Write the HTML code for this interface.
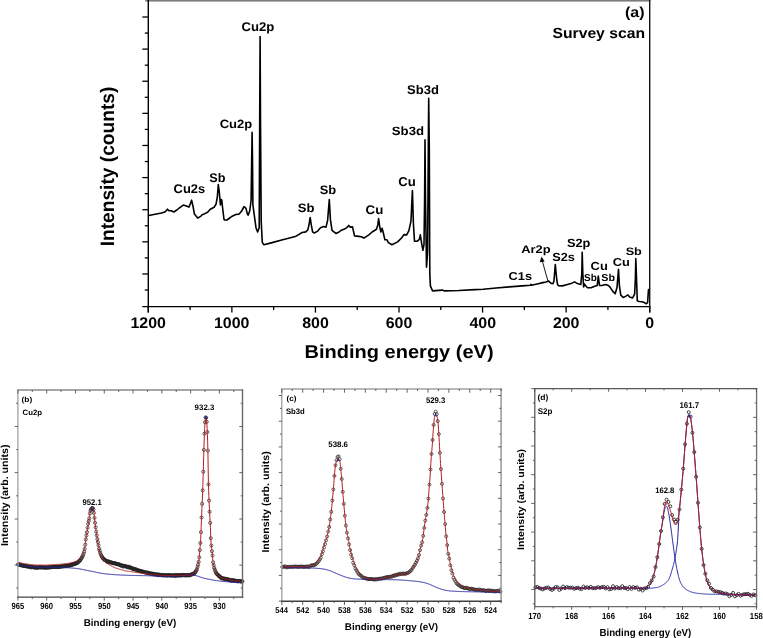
<!DOCTYPE html>
<html><head><meta charset="utf-8"><style>
html,body{margin:0;padding:0;background:#fff;}
svg{display:block;will-change:transform;-webkit-font-smoothing:antialiased;text-rendering:geometricPrecision;font-family:"Liberation Sans", sans-serif;}
</style></head><body>
<svg width="763" height="638" viewBox="0 0 763 638">
<rect width="763" height="638" fill="#fff"/>
<rect x="145.2" y="0" width="505.1000000000001" height="1.6" fill="#7c7c7c"/>
<line x1="148.3" y1="0" x2="148.3" y2="312.6" stroke="#000" stroke-width="1.4"/>
<line x1="649.7" y1="0" x2="649.7" y2="312.6" stroke="#111" stroke-width="1.4"/>
<line x1="142.3" y1="306.6" x2="650.4000000000001" y2="306.6" stroke="#000" stroke-width="1.4"/>
<line x1="142.3" y1="17.00" x2="148.3" y2="17.00" stroke="#000" stroke-width="1.3"/>
<line x1="144.8" y1="33.06" x2="148.3" y2="33.06" stroke="#000" stroke-width="1.3"/>
<line x1="142.3" y1="49.12" x2="148.3" y2="49.12" stroke="#000" stroke-width="1.3"/>
<line x1="144.8" y1="65.18" x2="148.3" y2="65.18" stroke="#000" stroke-width="1.3"/>
<line x1="142.3" y1="81.24" x2="148.3" y2="81.24" stroke="#000" stroke-width="1.3"/>
<line x1="144.8" y1="97.30" x2="148.3" y2="97.30" stroke="#000" stroke-width="1.3"/>
<line x1="142.3" y1="113.36" x2="148.3" y2="113.36" stroke="#000" stroke-width="1.3"/>
<line x1="144.8" y1="129.42" x2="148.3" y2="129.42" stroke="#000" stroke-width="1.3"/>
<line x1="142.3" y1="145.48" x2="148.3" y2="145.48" stroke="#000" stroke-width="1.3"/>
<line x1="144.8" y1="161.54" x2="148.3" y2="161.54" stroke="#000" stroke-width="1.3"/>
<line x1="142.3" y1="177.60" x2="148.3" y2="177.60" stroke="#000" stroke-width="1.3"/>
<line x1="144.8" y1="193.66" x2="148.3" y2="193.66" stroke="#000" stroke-width="1.3"/>
<line x1="142.3" y1="209.72" x2="148.3" y2="209.72" stroke="#000" stroke-width="1.3"/>
<line x1="144.8" y1="225.78" x2="148.3" y2="225.78" stroke="#000" stroke-width="1.3"/>
<line x1="142.3" y1="241.84" x2="148.3" y2="241.84" stroke="#000" stroke-width="1.3"/>
<line x1="144.8" y1="257.90" x2="148.3" y2="257.90" stroke="#000" stroke-width="1.3"/>
<line x1="142.3" y1="273.96" x2="148.3" y2="273.96" stroke="#000" stroke-width="1.3"/>
<line x1="144.8" y1="290.02" x2="148.3" y2="290.02" stroke="#000" stroke-width="1.3"/>
<line x1="649.70" y1="306.6" x2="649.70" y2="312.6" stroke="#000" stroke-width="1.3"/>
<line x1="607.92" y1="306.6" x2="607.92" y2="310.1" stroke="#000" stroke-width="1.3"/>
<line x1="566.13" y1="306.6" x2="566.13" y2="312.6" stroke="#000" stroke-width="1.3"/>
<line x1="524.35" y1="306.6" x2="524.35" y2="310.1" stroke="#000" stroke-width="1.3"/>
<line x1="482.57" y1="306.6" x2="482.57" y2="312.6" stroke="#000" stroke-width="1.3"/>
<line x1="440.78" y1="306.6" x2="440.78" y2="310.1" stroke="#000" stroke-width="1.3"/>
<line x1="399.00" y1="306.6" x2="399.00" y2="312.6" stroke="#000" stroke-width="1.3"/>
<line x1="357.22" y1="306.6" x2="357.22" y2="310.1" stroke="#000" stroke-width="1.3"/>
<line x1="315.43" y1="306.6" x2="315.43" y2="312.6" stroke="#000" stroke-width="1.3"/>
<line x1="273.65" y1="306.6" x2="273.65" y2="310.1" stroke="#000" stroke-width="1.3"/>
<line x1="231.87" y1="306.6" x2="231.87" y2="312.6" stroke="#000" stroke-width="1.3"/>
<line x1="190.08" y1="306.6" x2="190.08" y2="310.1" stroke="#000" stroke-width="1.3"/>
<line x1="148.30" y1="306.6" x2="148.30" y2="312.6" stroke="#000" stroke-width="1.3"/>
<text transform="translate(645.28,327.80) scale(1.0400,1)" font-size="15.33" font-weight="bold" fill="#000" >0</text>
<text transform="translate(552.89,327.80) scale(1.0400,1)" font-size="15.33" font-weight="bold" fill="#000" >200</text>
<text transform="translate(469.49,327.80) scale(1.0400,1)" font-size="15.33" font-weight="bold" fill="#000" >400</text>
<text transform="translate(385.74,327.80) scale(1.0400,1)" font-size="15.33" font-weight="bold" fill="#000" >600</text>
<text transform="translate(302.22,327.80) scale(1.0400,1)" font-size="15.33" font-weight="bold" fill="#000" >800</text>
<text transform="translate(213.97,327.80) scale(1.0400,1)" font-size="15.33" font-weight="bold" fill="#000" >1000</text>
<text transform="translate(130.40,327.80) scale(1.0400,1)" font-size="15.33" font-weight="bold" fill="#000" >1200</text>
<polyline points="148.8,215.5 161.5,213.0 165.3,211.7 167.5,209.2 168.9,210.8 171.3,210.8 173.8,212.0 176.8,210.0 180.1,207.3 183.4,205.1 185.6,205.7 188.9,207.1 190.2,204.0 191.6,200.2 193.0,206.2 194.4,213.9 197.7,218.1 201.0,216.1 202.1,214.8 204.3,213.9 207.6,212.2 210.3,209.3 214.1,207.3 216.1,204.0 217.4,196.3 218.3,184.5 219.3,192.0 220.4,205.0 221.2,199.5 221.8,200.0 222.5,207.0 224.0,219.5 224.8,220.0 227.0,220.0 232.2,216.2 235.7,214.5 239.1,214.1 241.7,211.0 244.0,206.7 246.0,208.4 247.1,213.1 248.1,215.2 249.7,211.0 251.1,200.5 251.7,160.0 252.1,132.4 252.5,160.0 252.9,205.0 254.4,216.2 256.0,227.7 257.6,231.9 259.2,227.7 259.7,120.0 260.1,36.5 260.5,120.0 261.2,221.4 262.3,242.4 263.9,244.7 271.2,242.9 281.7,240.1 295.3,236.6 302.1,232.5 305.8,231.9 307.9,229.8 309.2,223.5 310.2,217.5 311.2,224.6 312.6,231.9 314.2,233.0 317.3,231.4 320.5,227.7 323.6,226.5 326.0,227.1 327.6,220.5 329.3,199.6 330.4,219.4 332.0,230.4 335.9,233.4 339.1,232.0 341.3,230.2 344.6,229.1 347.4,227.1 348.8,225.4 350.1,227.1 352.5,226.9 354.5,235.9 358.9,236.4 362.2,237.0 363.8,238.1 368.8,234.8 372.1,232.0 376.5,229.3 377.8,224.9 378.6,218.5 379.9,227.8 380.9,232.0 382.1,228.3 383.1,232.0 384.9,239.8 387.0,239.8 388.4,242.6 391.9,244.8 397.6,241.9 401.8,237.7 403.9,234.6 406.7,234.9 408.9,230.6 411.0,220.8 412.4,190.5 413.4,223.6 414.5,241.2 417.3,241.2 418.3,240.4 419.4,239.1 420.3,234.9 421.6,243.2 422.9,250.3 424.0,244.3 424.6,200.0 425.0,139.8 425.5,200.0 426.5,267.3 427.6,252.0 428.3,150.0 428.7,98.2 429.3,150.0 429.8,273.9 430.4,285.9 432.5,290.9 442.4,290.1 444.6,290.9 458.9,290.5 475.0,289.6 483.1,289.3 496.2,288.0 509.3,286.9 522.4,285.9 530.3,285.2 530.9,284.4 531.5,285.2 538.2,283.7 542.9,282.6 546.0,282.0 547.5,281.5 548.7,281.1 549.7,282.1 551.3,283.4 552.9,283.7 553.9,281.5 554.6,273.0 555.3,264.6 556.1,273.0 556.8,280.0 557.6,284.5 558.5,285.8 562.3,285.9 566.6,284.8 571.0,283.6 574.6,281.9 577.4,283.6 580.8,284.5 581.8,273.3 582.2,252.3 582.8,273.3 583.6,286.9 584.6,284.1 586.1,286.2 587.5,287.7 591.1,287.7 594.7,286.2 597.2,285.5 598.3,276.1 599.5,285.5 602.0,285.5 605.6,284.5 608.4,285.5 610.0,287.1 612.8,291.4 615.2,293.7 617.0,287.6 618.5,269.3 619.4,285.7 620.8,295.1 623.2,297.5 626.0,296.1 627.9,294.9 629.7,297.0 632.6,297.9 634.6,294.2 635.4,278.2 635.8,258.5 636.5,278.2 637.3,300.8 639.1,301.5 642.0,301.7 644.3,302.6 646.2,303.8 647.6,302.6 648.5,289.5 649.2,289.5" fill="none" stroke="#000" stroke-width="1.6" stroke-linejoin="round"/>
<line x1="548.1" y1="281.6" x2="542.3" y2="261" stroke="#000" stroke-width="0.9"/>
<polygon points="541.6,256.6 539.7,262.2 544.6,261.5" fill="#000"/>
<text transform="translate(241.56,31.30) scale(1.0403,1)" font-size="12.61" font-weight="bold" fill="#000" >Cu2p</text>
<text transform="translate(219.67,128.20) scale(1.0830,1)" font-size="12.03" font-weight="bold" fill="#000" >Cu2p</text>
<text transform="translate(173.57,193.10) scale(1.0242,1)" font-size="12.61" font-weight="bold" fill="#000" >Cu2s</text>
<text transform="translate(209.33,181.50) scale(1.0211,1)" font-size="12.41" font-weight="bold" fill="#000" >Sb</text>
<text transform="translate(297.82,212.10) scale(1.0785,1)" font-size="12.14" font-weight="bold" fill="#000" >Sb</text>
<text transform="translate(319.73,193.90) scale(1.0528,1)" font-size="12.28" font-weight="bold" fill="#000" >Sb</text>
<text transform="translate(365.55,214.10) scale(1.0675,1)" font-size="12.46" font-weight="bold" fill="#000" >Cu</text>
<text transform="translate(398.36,186.20) scale(1.0308,1)" font-size="12.75" font-weight="bold" fill="#000" >Cu</text>
<text transform="translate(407.02,93.60) scale(1.0379,1)" font-size="12.55" font-weight="bold" fill="#000" >Sb3d</text>
<text transform="translate(391.82,135.30) scale(1.0962,1)" font-size="12.00" font-weight="bold" fill="#000" >Sb3d</text>
<text transform="translate(508.58,280.20) scale(1.1162,1)" font-size="11.46" font-weight="bold" fill="#000" >C1s</text>
<text transform="translate(521.18,252.70) scale(1.1726,1)" font-size="11.03" font-weight="bold" fill="#000" >Ar2p</text>
<text transform="translate(552.33,260.70) scale(1.0815,1)" font-size="11.75" font-weight="bold" fill="#000" >S2s</text>
<text transform="translate(566.93,246.80) scale(1.0780,1)" font-size="11.89" font-weight="bold" fill="#000" >S2p</text>
<text transform="translate(584.01,281.40) scale(0.9956,1)" font-size="10.07" font-weight="bold" fill="#000" >Sb</text>
<text transform="translate(590.57,270.20) scale(1.0979,1)" font-size="11.75" font-weight="bold" fill="#000" >Cu</text>
<text transform="translate(601.29,281.40) scale(1.0614,1)" font-size="10.07" font-weight="bold" fill="#000" >Sb</text>
<text transform="translate(612.87,266.20) scale(1.1044,1)" font-size="11.60" font-weight="bold" fill="#000" >Cu</text>
<text transform="translate(625.63,255.20) scale(1.1782,1)" font-size="10.76" font-weight="bold" fill="#000" >Sb</text>
<text transform="translate(552.44,37.70) scale(1.0758,1)" font-size="14.61" font-weight="bold" fill="#000" >Survey scan</text>
<text transform="translate(625.00,16.72) scale(1.1106,1)" font-size="14.38" font-weight="bold" fill="#000" >(a)</text>
<text transform="translate(304.56,357.90) scale(1.0756,1)" font-size="18.62" font-weight="bold" fill="#000" >Binding energy (eV)</text>
<text transform="translate(114.20,246.28) rotate(-90) scale(0.9851,1)" font-size="19.45" font-weight="bold" fill="#000">Intensity (counts)</text>
<g fill="none" stroke="#1e1e1e" stroke-width="0.7"><circle cx="17.90" cy="564.39" r="1.55"/><circle cx="18.48" cy="564.67" r="1.55"/><circle cx="19.05" cy="564.70" r="1.55"/><circle cx="19.63" cy="564.45" r="1.55"/><circle cx="20.20" cy="565.15" r="1.55"/><circle cx="20.78" cy="565.18" r="1.55"/><circle cx="21.35" cy="565.08" r="1.55"/><circle cx="21.93" cy="565.50" r="1.55"/><circle cx="22.51" cy="565.58" r="1.55"/><circle cx="23.08" cy="565.69" r="1.55"/><circle cx="23.66" cy="565.74" r="1.55"/><circle cx="24.23" cy="565.99" r="1.55"/><circle cx="24.81" cy="565.78" r="1.55"/><circle cx="25.38" cy="566.03" r="1.55"/><circle cx="25.96" cy="566.06" r="1.55"/><circle cx="26.54" cy="566.44" r="1.55"/><circle cx="27.11" cy="566.41" r="1.55"/><circle cx="27.69" cy="566.44" r="1.55"/><circle cx="28.26" cy="566.42" r="1.55"/><circle cx="28.84" cy="566.66" r="1.55"/><circle cx="29.41" cy="566.82" r="1.55"/><circle cx="29.99" cy="566.84" r="1.55"/><circle cx="30.57" cy="567.32" r="1.55"/><circle cx="31.14" cy="567.33" r="1.55"/><circle cx="31.72" cy="566.47" r="1.55"/><circle cx="32.29" cy="566.73" r="1.55"/><circle cx="32.87" cy="567.21" r="1.55"/><circle cx="33.44" cy="567.18" r="1.55"/><circle cx="34.02" cy="567.36" r="1.55"/><circle cx="34.60" cy="567.38" r="1.55"/><circle cx="35.17" cy="567.87" r="1.55"/><circle cx="35.75" cy="567.08" r="1.55"/><circle cx="36.32" cy="567.28" r="1.55"/><circle cx="36.90" cy="567.90" r="1.55"/><circle cx="37.47" cy="567.57" r="1.55"/><circle cx="38.05" cy="567.58" r="1.55"/><circle cx="38.63" cy="567.30" r="1.55"/><circle cx="39.20" cy="567.03" r="1.55"/><circle cx="39.78" cy="567.49" r="1.55"/><circle cx="40.35" cy="567.49" r="1.55"/><circle cx="40.93" cy="567.16" r="1.55"/><circle cx="41.50" cy="567.31" r="1.55"/><circle cx="42.08" cy="567.47" r="1.55"/><circle cx="42.66" cy="567.25" r="1.55"/><circle cx="43.23" cy="567.47" r="1.55"/><circle cx="43.81" cy="567.52" r="1.55"/><circle cx="44.38" cy="567.51" r="1.55"/><circle cx="44.96" cy="567.37" r="1.55"/><circle cx="45.53" cy="567.64" r="1.55"/><circle cx="46.11" cy="567.71" r="1.55"/><circle cx="46.69" cy="567.54" r="1.55"/><circle cx="47.26" cy="567.23" r="1.55"/><circle cx="47.84" cy="567.59" r="1.55"/><circle cx="48.41" cy="567.25" r="1.55"/><circle cx="48.99" cy="567.56" r="1.55"/><circle cx="49.56" cy="567.03" r="1.55"/><circle cx="50.14" cy="567.49" r="1.55"/><circle cx="50.71" cy="567.21" r="1.55"/><circle cx="51.29" cy="566.87" r="1.55"/><circle cx="51.87" cy="567.06" r="1.55"/><circle cx="52.44" cy="567.12" r="1.55"/><circle cx="53.02" cy="567.15" r="1.55"/><circle cx="53.59" cy="566.81" r="1.55"/><circle cx="54.17" cy="566.75" r="1.55"/><circle cx="54.74" cy="567.05" r="1.55"/><circle cx="55.32" cy="566.86" r="1.55"/><circle cx="55.90" cy="567.01" r="1.55"/><circle cx="56.47" cy="567.11" r="1.55"/><circle cx="57.05" cy="566.48" r="1.55"/><circle cx="57.62" cy="566.92" r="1.55"/><circle cx="58.20" cy="567.13" r="1.55"/><circle cx="58.77" cy="566.71" r="1.55"/><circle cx="59.35" cy="566.53" r="1.55"/><circle cx="59.93" cy="566.87" r="1.55"/><circle cx="60.50" cy="566.70" r="1.55"/><circle cx="61.08" cy="566.80" r="1.55"/><circle cx="61.65" cy="566.43" r="1.55"/><circle cx="62.23" cy="566.08" r="1.55"/><circle cx="62.80" cy="566.35" r="1.55"/><circle cx="63.38" cy="566.19" r="1.55"/><circle cx="63.96" cy="566.42" r="1.55"/><circle cx="64.53" cy="566.20" r="1.55"/><circle cx="65.11" cy="565.66" r="1.55"/><circle cx="65.68" cy="565.69" r="1.55"/><circle cx="66.26" cy="566.12" r="1.55"/><circle cx="66.83" cy="565.98" r="1.55"/><circle cx="67.41" cy="565.56" r="1.55"/><circle cx="67.99" cy="565.62" r="1.55"/><circle cx="68.56" cy="565.63" r="1.55"/><circle cx="69.14" cy="565.53" r="1.55"/><circle cx="69.71" cy="565.51" r="1.55"/><circle cx="70.29" cy="565.23" r="1.55"/><circle cx="70.86" cy="565.02" r="1.55"/><circle cx="71.44" cy="564.84" r="1.55"/><circle cx="72.02" cy="565.02" r="1.55"/><circle cx="72.59" cy="564.04" r="1.55"/><circle cx="73.17" cy="564.40" r="1.55"/><circle cx="73.74" cy="564.26" r="1.55"/><circle cx="74.32" cy="563.70" r="1.55"/><circle cx="74.89" cy="563.93" r="1.55"/><circle cx="75.47" cy="563.44" r="1.55"/><circle cx="76.05" cy="563.56" r="1.55"/><circle cx="76.62" cy="563.02" r="1.55"/><circle cx="77.20" cy="562.91" r="1.55"/><circle cx="77.77" cy="562.70" r="1.55"/><circle cx="78.35" cy="562.06" r="1.55"/><circle cx="78.92" cy="561.25" r="1.55"/><circle cx="79.50" cy="560.51" r="1.55"/><circle cx="80.08" cy="560.67" r="1.55"/><circle cx="80.65" cy="559.48" r="1.55"/><circle cx="81.23" cy="558.55" r="1.55"/><circle cx="81.80" cy="557.82" r="1.55"/><circle cx="82.38" cy="556.61" r="1.55"/><circle cx="82.95" cy="555.55" r="1.55"/><circle cx="83.53" cy="553.77" r="1.55"/><circle cx="84.11" cy="551.76" r="1.55"/><circle cx="84.68" cy="548.87" r="1.55"/><circle cx="85.26" cy="544.66" r="1.55"/><circle cx="85.83" cy="539.47" r="1.55"/><circle cx="86.41" cy="535.42" r="1.55"/><circle cx="86.98" cy="532.09" r="1.55"/><circle cx="87.56" cy="527.76" r="1.55"/><circle cx="88.14" cy="523.86" r="1.55"/><circle cx="88.71" cy="521.00" r="1.55"/><circle cx="89.29" cy="518.30" r="1.55"/><circle cx="89.86" cy="513.59" r="1.55"/><circle cx="90.44" cy="510.79" r="1.55"/><circle cx="91.01" cy="509.62" r="1.55"/><circle cx="91.59" cy="508.43" r="1.55"/><circle cx="92.17" cy="508.08" r="1.55"/><circle cx="92.74" cy="508.15" r="1.55"/><circle cx="93.32" cy="509.49" r="1.55"/><circle cx="93.89" cy="512.85" r="1.55"/><circle cx="94.47" cy="517.90" r="1.55"/><circle cx="95.04" cy="522.82" r="1.55"/><circle cx="95.62" cy="527.28" r="1.55"/><circle cx="96.20" cy="531.59" r="1.55"/><circle cx="96.77" cy="535.31" r="1.55"/><circle cx="97.35" cy="539.10" r="1.55"/><circle cx="97.92" cy="542.09" r="1.55"/><circle cx="98.50" cy="545.25" r="1.55"/><circle cx="99.07" cy="548.69" r="1.55"/><circle cx="99.65" cy="550.73" r="1.55"/><circle cx="100.23" cy="552.76" r="1.55"/><circle cx="100.80" cy="554.50" r="1.55"/><circle cx="101.38" cy="555.59" r="1.55"/><circle cx="101.95" cy="556.70" r="1.55"/><circle cx="102.53" cy="557.72" r="1.55"/><circle cx="103.10" cy="558.42" r="1.55"/><circle cx="103.68" cy="558.71" r="1.55"/><circle cx="104.26" cy="559.83" r="1.55"/><circle cx="104.83" cy="560.01" r="1.55"/><circle cx="105.41" cy="560.30" r="1.55"/><circle cx="105.98" cy="560.65" r="1.55"/><circle cx="106.56" cy="561.05" r="1.55"/><circle cx="107.13" cy="561.80" r="1.55"/><circle cx="107.71" cy="561.31" r="1.55"/><circle cx="108.28" cy="561.83" r="1.55"/><circle cx="108.86" cy="561.43" r="1.55"/><circle cx="109.44" cy="562.11" r="1.55"/><circle cx="110.01" cy="562.47" r="1.55"/><circle cx="110.59" cy="562.30" r="1.55"/><circle cx="111.16" cy="562.31" r="1.55"/><circle cx="111.74" cy="562.63" r="1.55"/><circle cx="112.31" cy="562.86" r="1.55"/><circle cx="112.89" cy="562.99" r="1.55"/><circle cx="113.47" cy="563.46" r="1.55"/><circle cx="114.04" cy="563.18" r="1.55"/><circle cx="114.62" cy="563.14" r="1.55"/><circle cx="115.19" cy="563.43" r="1.55"/><circle cx="115.77" cy="563.61" r="1.55"/><circle cx="116.34" cy="563.83" r="1.55"/><circle cx="116.92" cy="563.97" r="1.55"/><circle cx="117.50" cy="564.19" r="1.55"/><circle cx="118.07" cy="563.91" r="1.55"/><circle cx="118.65" cy="564.71" r="1.55"/><circle cx="119.22" cy="564.55" r="1.55"/><circle cx="119.80" cy="564.58" r="1.55"/><circle cx="120.37" cy="565.21" r="1.55"/><circle cx="120.95" cy="565.56" r="1.55"/><circle cx="121.53" cy="565.53" r="1.55"/><circle cx="122.10" cy="565.61" r="1.55"/><circle cx="122.68" cy="565.50" r="1.55"/><circle cx="123.25" cy="566.61" r="1.55"/><circle cx="123.83" cy="566.26" r="1.55"/><circle cx="124.40" cy="565.91" r="1.55"/><circle cx="124.98" cy="566.15" r="1.55"/><circle cx="125.56" cy="566.51" r="1.55"/><circle cx="126.13" cy="566.24" r="1.55"/><circle cx="126.71" cy="566.81" r="1.55"/><circle cx="127.28" cy="566.79" r="1.55"/><circle cx="127.86" cy="567.35" r="1.55"/><circle cx="128.43" cy="567.41" r="1.55"/><circle cx="129.01" cy="566.64" r="1.55"/><circle cx="129.59" cy="567.48" r="1.55"/><circle cx="130.16" cy="567.23" r="1.55"/><circle cx="130.74" cy="568.09" r="1.55"/><circle cx="131.31" cy="568.04" r="1.55"/><circle cx="131.89" cy="568.34" r="1.55"/><circle cx="132.46" cy="568.14" r="1.55"/><circle cx="133.04" cy="569.06" r="1.55"/><circle cx="133.62" cy="569.32" r="1.55"/><circle cx="134.19" cy="568.75" r="1.55"/><circle cx="134.77" cy="569.31" r="1.55"/><circle cx="135.34" cy="569.25" r="1.55"/><circle cx="135.92" cy="569.61" r="1.55"/><circle cx="136.49" cy="569.51" r="1.55"/><circle cx="137.07" cy="570.49" r="1.55"/><circle cx="137.65" cy="569.99" r="1.55"/><circle cx="138.22" cy="570.35" r="1.55"/><circle cx="138.80" cy="570.75" r="1.55"/><circle cx="139.37" cy="570.65" r="1.55"/><circle cx="139.95" cy="570.92" r="1.55"/><circle cx="140.52" cy="571.01" r="1.55"/><circle cx="141.10" cy="571.28" r="1.55"/><circle cx="141.68" cy="571.18" r="1.55"/><circle cx="142.25" cy="571.52" r="1.55"/><circle cx="142.83" cy="571.73" r="1.55"/><circle cx="143.40" cy="571.85" r="1.55"/><circle cx="143.98" cy="572.10" r="1.55"/><circle cx="144.55" cy="572.15" r="1.55"/><circle cx="145.13" cy="572.55" r="1.55"/><circle cx="145.71" cy="572.42" r="1.55"/><circle cx="146.28" cy="572.60" r="1.55"/><circle cx="146.86" cy="572.60" r="1.55"/><circle cx="147.43" cy="572.77" r="1.55"/><circle cx="148.01" cy="572.71" r="1.55"/><circle cx="148.58" cy="573.29" r="1.55"/><circle cx="149.16" cy="573.00" r="1.55"/><circle cx="149.74" cy="573.23" r="1.55"/><circle cx="150.31" cy="573.63" r="1.55"/><circle cx="150.89" cy="573.77" r="1.55"/><circle cx="151.46" cy="573.69" r="1.55"/><circle cx="152.04" cy="573.40" r="1.55"/><circle cx="152.61" cy="574.12" r="1.55"/><circle cx="153.19" cy="574.18" r="1.55"/><circle cx="153.77" cy="573.86" r="1.55"/><circle cx="154.34" cy="574.50" r="1.55"/><circle cx="154.92" cy="574.21" r="1.55"/><circle cx="155.49" cy="574.18" r="1.55"/><circle cx="156.07" cy="574.57" r="1.55"/><circle cx="156.64" cy="574.57" r="1.55"/><circle cx="157.22" cy="574.74" r="1.55"/><circle cx="157.80" cy="574.36" r="1.55"/><circle cx="158.37" cy="575.28" r="1.55"/><circle cx="158.95" cy="574.75" r="1.55"/><circle cx="159.52" cy="574.57" r="1.55"/><circle cx="160.10" cy="575.17" r="1.55"/><circle cx="160.67" cy="574.99" r="1.55"/><circle cx="161.25" cy="575.21" r="1.55"/><circle cx="161.83" cy="575.09" r="1.55"/><circle cx="162.40" cy="575.20" r="1.55"/><circle cx="162.98" cy="575.31" r="1.55"/><circle cx="163.55" cy="575.09" r="1.55"/><circle cx="164.13" cy="575.47" r="1.55"/><circle cx="164.70" cy="575.21" r="1.55"/><circle cx="165.28" cy="575.13" r="1.55"/><circle cx="165.85" cy="575.39" r="1.55"/><circle cx="166.43" cy="575.50" r="1.55"/><circle cx="167.01" cy="575.35" r="1.55"/><circle cx="167.58" cy="575.21" r="1.55"/><circle cx="168.16" cy="575.60" r="1.55"/><circle cx="168.73" cy="575.02" r="1.55"/><circle cx="169.31" cy="575.21" r="1.55"/><circle cx="169.88" cy="575.49" r="1.55"/><circle cx="170.46" cy="575.15" r="1.55"/><circle cx="171.04" cy="575.50" r="1.55"/><circle cx="171.61" cy="575.49" r="1.55"/><circle cx="172.19" cy="575.72" r="1.55"/><circle cx="172.76" cy="575.27" r="1.55"/><circle cx="173.34" cy="575.34" r="1.55"/><circle cx="173.91" cy="575.57" r="1.55"/><circle cx="174.49" cy="574.86" r="1.55"/><circle cx="175.07" cy="576.24" r="1.55"/><circle cx="175.64" cy="575.27" r="1.55"/><circle cx="176.22" cy="575.25" r="1.55"/><circle cx="176.79" cy="575.63" r="1.55"/><circle cx="177.37" cy="575.39" r="1.55"/><circle cx="177.94" cy="574.94" r="1.55"/><circle cx="178.52" cy="575.52" r="1.55"/><circle cx="179.10" cy="575.56" r="1.55"/><circle cx="179.67" cy="575.22" r="1.55"/><circle cx="180.25" cy="575.25" r="1.55"/><circle cx="180.82" cy="575.43" r="1.55"/><circle cx="181.40" cy="575.06" r="1.55"/><circle cx="181.97" cy="575.39" r="1.55"/><circle cx="182.55" cy="575.32" r="1.55"/><circle cx="183.13" cy="575.09" r="1.55"/><circle cx="183.70" cy="574.90" r="1.55"/><circle cx="184.28" cy="575.18" r="1.55"/><circle cx="184.85" cy="575.01" r="1.55"/><circle cx="185.43" cy="575.47" r="1.55"/><circle cx="186.00" cy="575.24" r="1.55"/><circle cx="186.58" cy="575.38" r="1.55"/><circle cx="187.16" cy="575.20" r="1.55"/><circle cx="187.73" cy="575.21" r="1.55"/><circle cx="188.31" cy="574.92" r="1.55"/><circle cx="188.88" cy="575.25" r="1.55"/><circle cx="189.46" cy="575.49" r="1.55"/><circle cx="190.03" cy="574.92" r="1.55"/><circle cx="190.61" cy="574.76" r="1.55"/><circle cx="191.19" cy="574.72" r="1.55"/><circle cx="191.76" cy="574.44" r="1.55"/><circle cx="192.34" cy="574.14" r="1.55"/><circle cx="192.91" cy="574.08" r="1.55"/><circle cx="193.49" cy="573.65" r="1.55"/><circle cx="194.06" cy="573.66" r="1.55"/><circle cx="194.64" cy="572.77" r="1.55"/><circle cx="195.22" cy="572.21" r="1.55"/><circle cx="195.79" cy="571.60" r="1.55"/><circle cx="196.37" cy="570.34" r="1.55"/><circle cx="196.94" cy="569.33" r="1.55"/><circle cx="197.52" cy="566.91" r="1.55"/><circle cx="198.09" cy="564.62" r="1.55"/><circle cx="198.67" cy="561.85" r="1.55"/><circle cx="199.25" cy="557.34" r="1.55"/><circle cx="199.82" cy="550.14" r="1.55"/><circle cx="200.40" cy="542.95" r="1.55"/><circle cx="200.97" cy="532.23" r="1.55"/><circle cx="201.55" cy="517.43" r="1.55"/><circle cx="202.12" cy="503.83" r="1.55"/><circle cx="202.70" cy="490.36" r="1.55"/><circle cx="203.28" cy="471.71" r="1.55"/><circle cx="203.85" cy="449.88" r="1.55"/><circle cx="204.43" cy="433.77" r="1.55"/><circle cx="205.00" cy="422.30" r="1.55"/><circle cx="205.58" cy="417.34" r="1.55"/><circle cx="206.15" cy="417.82" r="1.55"/><circle cx="206.73" cy="421.82" r="1.55"/><circle cx="207.31" cy="432.09" r="1.55"/><circle cx="207.88" cy="450.62" r="1.55"/><circle cx="208.46" cy="484.38" r="1.55"/><circle cx="209.03" cy="500.53" r="1.55"/><circle cx="209.61" cy="511.76" r="1.55"/><circle cx="210.18" cy="522.82" r="1.55"/><circle cx="210.76" cy="538.18" r="1.55"/><circle cx="211.34" cy="545.55" r="1.55"/><circle cx="211.91" cy="551.18" r="1.55"/><circle cx="212.49" cy="555.55" r="1.55"/><circle cx="213.06" cy="562.20" r="1.55"/><circle cx="213.64" cy="565.00" r="1.55"/><circle cx="214.21" cy="567.82" r="1.55"/><circle cx="214.79" cy="569.49" r="1.55"/><circle cx="215.37" cy="571.30" r="1.55"/><circle cx="215.94" cy="572.55" r="1.55"/><circle cx="216.52" cy="573.55" r="1.55"/><circle cx="217.09" cy="574.17" r="1.55"/><circle cx="217.67" cy="574.60" r="1.55"/><circle cx="218.24" cy="575.22" r="1.55"/><circle cx="218.82" cy="576.11" r="1.55"/><circle cx="219.40" cy="576.40" r="1.55"/><circle cx="219.97" cy="576.47" r="1.55"/><circle cx="220.55" cy="577.55" r="1.55"/><circle cx="221.12" cy="577.83" r="1.55"/><circle cx="221.70" cy="578.27" r="1.55"/><circle cx="222.27" cy="578.22" r="1.55"/><circle cx="222.85" cy="578.67" r="1.55"/><circle cx="223.42" cy="578.30" r="1.55"/><circle cx="224.00" cy="578.79" r="1.55"/><circle cx="224.58" cy="578.61" r="1.55"/><circle cx="225.15" cy="579.00" r="1.55"/><circle cx="225.73" cy="579.20" r="1.55"/><circle cx="226.30" cy="578.89" r="1.55"/><circle cx="226.88" cy="579.20" r="1.55"/><circle cx="227.45" cy="579.37" r="1.55"/><circle cx="228.03" cy="579.80" r="1.55"/><circle cx="228.61" cy="579.83" r="1.55"/><circle cx="229.18" cy="579.49" r="1.55"/><circle cx="229.76" cy="580.05" r="1.55"/><circle cx="230.33" cy="580.25" r="1.55"/><circle cx="230.91" cy="580.72" r="1.55"/><circle cx="231.48" cy="579.87" r="1.55"/><circle cx="232.06" cy="580.25" r="1.55"/><circle cx="232.64" cy="580.79" r="1.55"/><circle cx="233.21" cy="580.19" r="1.55"/><circle cx="233.79" cy="580.30" r="1.55"/><circle cx="234.36" cy="580.80" r="1.55"/><circle cx="234.94" cy="581.00" r="1.55"/><circle cx="235.51" cy="580.64" r="1.55"/><circle cx="236.09" cy="581.01" r="1.55"/><circle cx="236.67" cy="580.97" r="1.55"/><circle cx="237.24" cy="581.37" r="1.55"/><circle cx="237.82" cy="581.05" r="1.55"/><circle cx="238.39" cy="581.35" r="1.55"/><circle cx="238.97" cy="580.92" r="1.55"/><circle cx="239.54" cy="581.14" r="1.55"/><circle cx="240.12" cy="581.20" r="1.55"/><circle cx="240.70" cy="581.54" r="1.55"/><circle cx="241.27" cy="581.42" r="1.55"/><circle cx="241.85" cy="581.10" r="1.55"/><circle cx="242.42" cy="581.47" r="1.55"/></g><polyline points="17.90,564.40 18.40,564.52 18.90,564.64 19.40,564.76 19.90,564.88 20.40,564.99 20.90,565.11 21.40,565.22 21.90,565.33 22.40,565.44 22.90,565.54 23.40,565.64 23.90,565.74 24.40,565.84 24.90,565.93 25.40,566.02 25.90,566.10 26.40,566.18 26.90,566.25 27.40,566.32 27.90,566.39 28.40,566.45 28.90,566.50 29.40,566.55 29.90,566.59 30.40,566.63 30.90,566.67 31.40,566.70 31.90,566.74 32.40,566.77 32.90,566.80 33.40,566.83 33.90,566.87 34.40,566.89 34.90,566.92 35.40,566.95 35.90,566.98 36.40,567.00 36.90,567.03 37.40,567.05 37.90,567.07 38.40,567.10 38.90,567.12 39.40,567.14 39.90,567.16 40.40,567.18 40.90,567.19 41.40,567.21 41.90,567.22 42.40,567.24 42.90,567.25 43.40,567.27 43.90,567.28 44.40,567.29 44.90,567.30 45.40,567.31 45.90,567.32 46.40,567.32 46.90,567.33 47.40,567.34 47.90,567.35 48.40,567.35 48.90,567.36 49.40,567.36 49.90,567.37 50.40,567.37 50.90,567.38 51.40,567.38 51.90,567.38 52.40,567.39 52.90,567.39 53.40,567.40 53.90,567.40 54.40,567.40 54.90,567.41 55.40,567.41 55.90,567.42 56.40,567.42 56.90,567.43 57.40,567.43 57.90,567.44 58.40,567.44 58.90,567.45 59.40,567.46 59.90,567.46 60.40,567.47 60.90,567.48 61.40,567.49 61.90,567.50 62.40,567.51 62.90,567.52 63.40,567.54 63.90,567.55 64.40,567.57 64.90,567.59 65.40,567.61 65.90,567.64 66.40,567.66 66.90,567.69 67.40,567.72 67.90,567.75 68.40,567.78 68.90,567.81 69.40,567.85 69.90,567.88 70.40,567.92 70.90,567.96 71.40,567.99 71.90,568.03 72.40,568.07 72.90,568.12 73.40,568.16 73.90,568.20 74.40,568.25 74.90,568.29 75.40,568.34 75.90,568.39 76.40,568.45 76.90,568.51 77.40,568.58 77.90,568.65 78.40,568.73 78.90,568.81 79.40,568.89 79.90,568.98 80.40,569.07 80.90,569.16 81.40,569.26 81.90,569.36 82.40,569.46 82.90,569.56 83.40,569.66 83.90,569.76 84.40,569.87 84.90,569.97 85.40,570.08 85.90,570.18 86.40,570.29 86.90,570.39 87.40,570.49 87.90,570.59 88.40,570.69 88.90,570.79 89.40,570.89 89.90,570.98 90.40,571.07 90.90,571.17 91.40,571.27 91.90,571.37 92.40,571.47 92.90,571.57 93.40,571.67 93.90,571.78 94.40,571.88 94.90,571.99 95.40,572.09 95.90,572.20 96.40,572.30 96.90,572.41 97.40,572.51 97.90,572.62 98.40,572.72 98.90,572.82 99.40,572.91 99.90,573.01 100.40,573.10 100.90,573.19 101.40,573.28 101.90,573.37 102.40,573.45 102.90,573.52 103.40,573.60 103.90,573.66 104.40,573.73 104.90,573.79 105.40,573.84 105.90,573.90 106.40,573.95 106.90,574.01 107.40,574.06 107.90,574.11 108.40,574.16 108.90,574.21 109.40,574.25 109.90,574.30 110.40,574.34 110.90,574.39 111.40,574.43 111.90,574.47 112.40,574.51 112.90,574.55 113.40,574.59 113.90,574.63 114.40,574.67 114.90,574.70 115.40,574.74 115.90,574.77 116.40,574.80 116.90,574.83 117.40,574.86 117.90,574.89 118.40,574.92 118.90,574.95 119.40,574.97 119.90,575.00 120.40,575.02 120.90,575.04 121.40,575.06 121.90,575.09 122.40,575.11 122.90,575.13 123.40,575.15 123.90,575.17 124.40,575.19 124.90,575.21 125.40,575.22 125.90,575.24 126.40,575.26 126.90,575.28 127.40,575.29 127.90,575.31 128.40,575.33 128.90,575.34 129.40,575.36 129.90,575.37 130.40,575.39 130.90,575.40 131.40,575.41 131.90,575.43 132.40,575.44 132.90,575.45 133.40,575.46 133.90,575.48 134.40,575.49 134.90,575.50 135.40,575.51 135.90,575.52 136.40,575.53 136.90,575.54 137.40,575.55 137.90,575.55 138.40,575.56 138.90,575.57 139.40,575.58 139.90,575.59 140.40,575.59 140.90,575.60 141.40,575.61 141.90,575.61 142.40,575.62 142.90,575.63 143.40,575.64 143.90,575.64 144.40,575.65 144.90,575.66 145.40,575.67 145.90,575.68 146.40,575.69 146.90,575.70 147.40,575.71 147.90,575.72 148.40,575.73 148.90,575.75 149.40,575.76 149.90,575.78 150.40,575.80 150.90,575.82 151.40,575.83 151.90,575.85 152.40,575.87 152.90,575.89 153.40,575.91 153.90,575.93 154.40,575.95 154.90,575.97 155.40,575.99 155.90,576.01 156.40,576.03 156.90,576.05 157.40,576.07 157.90,576.08 158.40,576.10 158.90,576.11 159.40,576.13 159.90,576.14 160.40,576.15 160.90,576.17 161.40,576.18 161.90,576.18 162.40,576.19 162.90,576.20 163.40,576.20 163.90,576.20 164.40,576.20 164.90,576.20 165.40,576.20 165.90,576.19 166.40,576.19 166.90,576.18 167.40,576.18 167.90,576.17 168.40,576.16 168.90,576.15 169.40,576.15 169.90,576.14 170.40,576.13 170.90,576.11 171.40,576.10 171.90,576.09 172.40,576.08 172.90,576.06 173.40,576.05 173.90,576.04 174.40,576.02 174.90,576.01 175.40,575.99 175.90,575.97 176.40,575.96 176.90,575.94 177.40,575.92 177.90,575.91 178.40,575.89 178.90,575.87 179.40,575.86 179.90,575.84 180.40,575.82 180.90,575.80 181.40,575.78 181.90,575.76 182.40,575.73 182.90,575.70 183.40,575.66 183.90,575.63 184.40,575.59 184.90,575.55 185.40,575.51 185.90,575.46 186.40,575.42 186.90,575.39 187.40,575.35 187.90,575.31 188.40,575.28 188.90,575.26 189.40,575.23 189.90,575.22 190.40,575.21 190.90,575.20 191.40,575.20 191.90,575.22 192.40,575.25 192.90,575.29 193.40,575.33 193.90,575.38 194.40,575.43 194.90,575.49 195.40,575.55 195.90,575.64 196.40,575.75 196.90,575.88 197.40,576.03 197.90,576.18 198.40,576.35 198.90,576.53 199.40,576.71 199.90,576.89 200.40,577.07 200.90,577.25 201.40,577.42 201.90,577.59 202.40,577.74 202.90,577.87 203.40,578.00 203.90,578.12 204.40,578.24 204.90,578.36 205.40,578.48 205.90,578.60 206.40,578.72 206.90,578.83 207.40,578.95 207.90,579.06 208.40,579.17 208.90,579.28 209.40,579.38 209.90,579.48 210.40,579.59 210.90,579.69 211.40,579.78 211.90,579.88 212.40,579.97 212.90,580.06 213.40,580.14 213.90,580.23 214.40,580.31 214.90,580.38 215.40,580.46 215.90,580.53 216.40,580.61 216.90,580.68 217.40,580.75 217.90,580.82 218.40,580.88 218.90,580.95 219.40,581.01 219.90,581.08 220.40,581.14 220.90,581.20 221.40,581.25 221.90,581.31 222.40,581.36 222.90,581.41 223.40,581.46 223.90,581.51 224.40,581.55 224.90,581.59 225.40,581.63 225.90,581.67 226.40,581.71 226.90,581.75 227.40,581.79 227.90,581.83 228.40,581.87 228.90,581.90 229.40,581.94 229.90,581.98 230.40,582.01 230.90,582.05 231.40,582.08 231.90,582.12 232.40,582.15 232.90,582.18 233.40,582.22 233.90,582.25 234.40,582.28 234.90,582.31 235.40,582.33 235.90,582.36 236.40,582.39 236.90,582.41 237.40,582.44 237.90,582.46 238.40,582.48 238.90,582.50 239.40,582.52 239.90,582.53 240.40,582.55 240.90,582.56 241.40,582.58 241.90,582.59 242.40,582.60" fill="none" stroke="#2424a4" stroke-width="1.0" stroke-linejoin="round" /><polyline points="17.90,562.30 18.15,562.36 18.40,562.42 18.65,562.47 18.90,562.53 19.15,562.59 19.40,562.64 19.65,562.70 19.90,562.75 20.15,562.80 20.40,562.86 20.65,562.91 20.90,562.96 21.15,563.01 21.40,563.06 21.65,563.11 21.90,563.16 22.15,563.21 22.40,563.25 22.65,563.30 22.90,563.35 23.15,563.39 23.40,563.43 23.65,563.48 23.90,563.52 24.15,563.56 24.40,563.60 24.65,563.64 24.90,563.68 25.15,563.72 25.40,563.75 25.65,563.79 25.90,563.83 26.15,563.87 26.40,563.92 26.65,563.96 26.90,564.00 27.15,564.04 27.40,564.08 27.65,564.13 27.90,564.17 28.15,564.21 28.40,564.25 28.65,564.29 28.90,564.34 29.15,564.38 29.40,564.42 29.65,564.46 29.90,564.50 30.15,564.54 30.40,564.57 30.65,564.61 30.90,564.64 31.15,564.68 31.40,564.71 31.65,564.74 31.90,564.77 32.15,564.79 32.40,564.81 32.65,564.83 32.90,564.85 33.15,564.87 33.40,564.88 33.65,564.89 33.90,564.90 34.15,564.91 34.40,564.92 34.65,564.93 34.90,564.93 35.15,564.94 35.40,564.95 35.65,564.96 35.90,564.96 36.15,564.97 36.40,564.98 36.65,564.98 36.90,564.99 37.15,565.00 37.40,565.00 37.65,565.01 37.90,565.01 38.15,565.02 38.40,565.03 38.65,565.03 38.90,565.04 39.15,565.04 39.40,565.05 39.65,565.05 39.90,565.05 40.15,565.06 40.40,565.06 40.65,565.07 40.90,565.07 41.15,565.07 41.40,565.08 41.65,565.08 41.90,565.08 42.15,565.09 42.40,565.09 42.65,565.09 42.90,565.09 43.15,565.09 43.40,565.10 43.65,565.10 43.90,565.10 44.15,565.10 44.40,565.10 44.65,565.10 44.90,565.10 45.15,565.10 45.40,565.10 45.65,565.09 45.90,565.09 46.15,565.08 46.40,565.08 46.65,565.07 46.90,565.06 47.15,565.04 47.40,565.03 47.65,565.02 47.90,565.01 48.15,564.99 48.40,564.97 48.65,564.96 48.90,564.94 49.15,564.93 49.40,564.91 49.65,564.89 49.90,564.87 50.15,564.86 50.40,564.84 50.65,564.82 50.90,564.80 51.15,564.79 51.40,564.77 51.65,564.75 51.90,564.74 52.15,564.72 52.40,564.71 52.65,564.70 52.90,564.68 53.15,564.67 53.40,564.66 53.65,564.65 53.90,564.64 54.15,564.63 54.40,564.61 54.65,564.60 54.90,564.59 55.15,564.58 55.40,564.57 55.65,564.56 55.90,564.55 56.15,564.53 56.40,564.52 56.65,564.51 56.90,564.50 57.15,564.48 57.40,564.47 57.65,564.45 57.90,564.44 58.15,564.42 58.40,564.41 58.65,564.39 58.90,564.37 59.15,564.35 59.40,564.33 59.65,564.31 59.90,564.29 60.15,564.27 60.40,564.24 60.65,564.22 60.90,564.20 61.15,564.17 61.40,564.15 61.65,564.12 61.90,564.10 62.15,564.07 62.40,564.05 62.65,564.02 62.90,563.99 63.15,563.97 63.40,563.94 63.65,563.91 63.90,563.89 64.15,563.86 64.40,563.83 64.65,563.80 64.90,563.77 65.15,563.74 65.40,563.71 65.65,563.68 65.90,563.65 66.15,563.62 66.40,563.59 66.65,563.56 66.90,563.53 67.15,563.49 67.40,563.46 67.65,563.42 67.90,563.38 68.15,563.34 68.40,563.30 68.65,563.26 68.90,563.22 69.15,563.18 69.40,563.13 69.65,563.09 69.90,563.04 70.15,562.99 70.40,562.94 70.65,562.88 70.90,562.83 71.15,562.77 71.40,562.71 71.65,562.65 71.90,562.59 72.15,562.52 72.40,562.45 72.65,562.39 72.90,562.32 73.15,562.24 73.40,562.17 73.65,562.09 73.90,562.00 74.15,561.92 74.40,561.83 74.65,561.74 74.90,561.64 75.15,561.54 75.40,561.43 75.65,561.32 75.90,561.21 76.15,561.09 76.40,560.97 76.65,560.84 76.90,560.71 77.15,560.57 77.40,560.42 77.65,560.27 77.90,560.10 78.15,559.92 78.40,559.73 78.65,559.53 78.90,559.32 79.15,559.10 79.40,558.86 79.65,558.62 79.90,558.37 80.15,558.10 80.40,557.83 80.65,557.55 80.90,557.26 81.15,556.95 81.40,556.63 81.65,556.27 81.90,555.88 82.15,555.45 82.40,554.99 82.65,554.48 82.90,553.94 83.15,553.37 83.40,552.75 83.65,552.08 83.90,551.32 84.15,550.45 84.40,549.47 84.65,548.33 84.90,546.74 85.15,544.79 85.40,542.76 85.65,540.83 85.90,538.82 86.15,536.88 86.40,535.20 86.65,533.74 86.90,532.37 87.15,530.96 87.40,529.51 87.65,528.03 87.90,526.50 88.15,524.88 88.40,523.23 88.65,521.66 88.90,520.23 89.15,518.83 89.40,517.36 89.65,515.66 89.90,513.91 90.15,512.57 90.40,511.52 90.65,510.62 90.90,509.94 91.15,509.46 91.40,509.08 91.65,508.76 91.90,508.53 92.15,508.36 92.40,508.25 92.65,508.27 92.90,508.54 93.15,508.98 93.40,509.80 93.65,511.31 93.90,513.05 94.15,515.01 94.40,517.25 94.65,519.45 94.90,521.63 95.15,523.78 95.40,525.80 95.65,527.72 95.90,529.57 96.15,531.35 96.40,533.09 96.65,534.77 96.90,536.40 97.15,537.96 97.40,539.46 97.65,540.92 97.90,542.34 98.15,543.74 98.40,545.13 98.65,546.47 98.90,547.73 99.15,548.87 99.40,549.97 99.65,551.01 99.90,551.98 100.15,552.86 100.40,553.64 100.65,554.36 100.90,555.03 101.15,555.67 101.40,556.25 101.65,556.78 101.90,557.26 102.15,557.71 102.40,558.13 102.65,558.51 102.90,558.88 103.15,559.23 103.40,559.56 103.65,559.88 103.90,560.20 104.15,560.52 104.40,560.83 104.65,561.12 104.90,561.39 105.15,561.65 105.40,561.89 105.65,562.13 105.90,562.36 106.15,562.60 106.40,562.83 106.65,563.05 106.90,563.26 107.15,563.45 107.40,563.64 107.65,563.81 107.90,563.99 108.15,564.15 108.40,564.31 108.65,564.47 108.90,564.63 109.15,564.77 109.40,564.92 109.65,565.06 109.90,565.19 110.15,565.32 110.40,565.45 110.65,565.59 110.90,565.72 111.15,565.86 111.40,566.00 111.65,566.14 111.90,566.28 112.15,566.42 112.40,566.57 112.65,566.71 112.90,566.85 113.15,566.99 113.40,567.12 113.65,567.25 113.90,567.37 114.15,567.48 114.40,567.59 114.65,567.69 114.90,567.77 115.15,567.85 115.40,567.92 115.65,568.00 115.90,568.07 116.15,568.15 116.40,568.22 116.65,568.30 116.90,568.37 117.15,568.44 117.40,568.52 117.65,568.60 117.90,568.67 118.15,568.75 118.40,568.83 118.65,568.91 118.90,568.99 119.15,569.07 119.40,569.15 119.65,569.22 119.90,569.30 120.15,569.38 120.40,569.46 120.65,569.54 120.90,569.62 121.15,569.69 121.40,569.77 121.65,569.84 121.90,569.91 122.15,569.99 122.40,570.06 122.65,570.13 122.90,570.19 123.15,570.26 123.40,570.33 123.65,570.40 123.90,570.46 124.15,570.53 124.40,570.59 124.65,570.66 124.90,570.72 125.15,570.78 125.40,570.84 125.65,570.90 125.90,570.96 126.15,571.01 126.40,571.05 126.65,571.10 126.90,571.13 127.15,571.17 127.40,571.20 127.65,571.23 127.90,571.26 128.15,571.29 128.40,571.32 128.65,571.35 128.90,571.37 129.15,571.40 129.40,571.43 129.65,571.45 129.90,571.48 130.15,571.52 130.40,571.55 130.65,571.58 130.90,571.62 131.15,571.65 131.40,571.69 131.65,571.73 131.90,571.77 132.15,571.81 132.40,571.85 132.65,571.89 132.90,571.94 133.15,571.98 133.40,572.02 133.65,572.07 133.90,572.11 134.15,572.15 134.40,572.20 134.65,572.24 134.90,572.28 135.15,572.33 135.40,572.37 135.65,572.41 135.90,572.45 136.15,572.49 136.40,572.52 136.65,572.56 136.90,572.60 137.15,572.63 137.40,572.66 137.65,572.70 137.90,572.73 138.15,572.76 138.40,572.80 138.65,572.83 138.90,572.86 139.15,572.89 139.40,572.92 139.65,572.96 139.90,572.99 140.15,573.02 140.40,573.05 140.65,573.08 140.90,573.11 141.15,573.14 141.40,573.17 141.65,573.20 141.90,573.23 142.15,573.25 142.40,573.28 142.65,573.31 142.90,573.34 143.15,573.37 143.40,573.39 143.65,573.42 143.90,573.45 144.15,573.47 144.40,573.50 144.65,573.53 144.90,573.56 145.15,573.58 145.40,573.61 145.65,573.64 145.90,573.67 146.15,573.70 146.40,573.73 146.65,573.76 146.90,573.79 147.15,573.82 147.40,573.85 147.65,573.88 147.90,573.91 148.15,573.94 148.40,573.97 148.65,574.00 148.90,574.03 149.15,574.06 149.40,574.09 149.65,574.12 149.90,574.15 150.15,574.18 150.40,574.20 150.65,574.23 150.90,574.26 151.15,574.28 151.40,574.31 151.65,574.34 151.90,574.36 152.15,574.38 152.40,574.41 152.65,574.43 152.90,574.45 153.15,574.47 153.40,574.50 153.65,574.52 153.90,574.53 154.15,574.55 154.40,574.57 154.65,574.59 154.90,574.60 155.15,574.62 155.40,574.63 155.65,574.65 155.90,574.66 156.15,574.68 156.40,574.70 156.65,574.72 156.90,574.74 157.15,574.75 157.40,574.77 157.65,574.79 157.90,574.81 158.15,574.84 158.40,574.86 158.65,574.88 158.90,574.90 159.15,574.93 159.40,574.95 159.65,574.97 159.90,575.00 160.15,575.02 160.40,575.05 160.65,575.07 160.90,575.09 161.15,575.12 161.40,575.14 161.65,575.16 161.90,575.18 162.15,575.20 162.40,575.21 162.65,575.23 162.90,575.25 163.15,575.26 163.40,575.27 163.65,575.28 163.90,575.30 164.15,575.31 164.40,575.32 164.65,575.33 164.90,575.34 165.15,575.34 165.40,575.35 165.65,575.36 165.90,575.37 166.15,575.38 166.40,575.39 166.65,575.40 166.90,575.41 167.15,575.41 167.40,575.42 167.65,575.43 167.90,575.44 168.15,575.44 168.40,575.45 168.65,575.46 168.90,575.46 169.15,575.47 169.40,575.47 169.65,575.48 169.90,575.48 170.15,575.49 170.40,575.49 170.65,575.49 170.90,575.49 171.15,575.50 171.40,575.50 171.65,575.50 171.90,575.50 172.15,575.50 172.40,575.50 172.65,575.50 172.90,575.50 173.15,575.49 173.40,575.49 173.65,575.49 173.90,575.48 174.15,575.48 174.40,575.47 174.65,575.47 174.90,575.46 175.15,575.46 175.40,575.45 175.65,575.45 175.90,575.44 176.15,575.43 176.40,575.43 176.65,575.42 176.90,575.41 177.15,575.40 177.40,575.40 177.65,575.39 177.90,575.38 178.15,575.38 178.40,575.37 178.65,575.36 178.90,575.35 179.15,575.35 179.40,575.34 179.65,575.33 179.90,575.33 180.15,575.32 180.40,575.31 180.65,575.31 180.90,575.30 181.15,575.30 181.40,575.29 181.65,575.29 181.90,575.28 182.15,575.28 182.40,575.27 182.65,575.27 182.90,575.27 183.15,575.26 183.40,575.26 183.65,575.25 183.90,575.25 184.15,575.24 184.40,575.24 184.65,575.23 184.90,575.23 185.15,575.22 185.40,575.22 185.65,575.21 185.90,575.20 186.15,575.20 186.40,575.19 186.65,575.18 186.90,575.17 187.15,575.16 187.40,575.16 187.65,575.15 187.90,575.13 188.15,575.12 188.40,575.11 188.65,575.10 188.90,575.08 189.15,575.07 189.40,575.05 189.65,575.03 189.90,575.01 190.15,574.98 190.40,574.95 190.65,574.90 190.90,574.84 191.15,574.77 191.40,574.69 191.65,574.60 191.90,574.50 192.15,574.40 192.40,574.29 192.65,574.17 192.90,574.05 193.15,573.92 193.40,573.78 193.65,573.61 193.90,573.43 194.15,573.23 194.40,573.01 194.65,572.76 194.90,572.50 195.15,572.21 195.40,571.90 195.65,571.56 195.90,571.20 196.15,570.82 196.40,570.35 196.65,569.77 196.90,569.09 197.15,568.33 197.40,567.49 197.65,566.58 197.90,565.61 198.15,564.59 198.40,563.43 198.65,562.06 198.90,560.43 199.15,558.37 199.40,555.59 199.65,552.61 199.90,549.48 200.15,546.18 200.40,542.92 200.65,539.48 200.90,534.63 201.15,527.46 201.40,520.88 201.65,514.54 201.90,508.61 202.15,503.31 202.40,498.00 202.65,491.88 202.90,484.61 203.15,476.42 203.40,466.91 203.65,456.78 203.90,448.41 204.15,440.97 204.40,434.49 204.65,428.59 204.90,424.00 205.15,420.69 205.40,418.50 205.65,417.28 205.90,417.08 206.15,417.85 206.40,419.04 206.65,421.11 206.90,424.00 207.15,428.30 207.40,434.28 207.65,441.53 207.90,451.18 208.15,467.12 208.40,482.22 208.65,490.60 208.90,497.20 209.15,503.03 209.40,508.09 209.65,512.91 209.90,517.60 210.15,522.03 210.40,527.20 210.65,535.10 210.90,540.58 211.15,543.64 211.40,546.02 211.65,548.39 211.90,550.69 212.15,552.87 212.40,555.20 212.65,558.06 212.90,560.86 213.15,562.71 213.40,564.13 213.65,565.33 213.90,566.39 214.15,567.41 214.40,568.40 214.65,569.34 214.90,570.19 215.15,570.92 215.40,571.50 215.65,571.98 215.90,572.43 216.15,572.84 216.40,573.23 216.65,573.58 216.90,573.91 217.15,574.22 217.40,574.50 217.65,574.77 217.90,575.03 218.15,575.27 218.40,575.51 218.65,575.74 218.90,575.96 219.15,576.19 219.40,576.41 219.65,576.62 219.90,576.83 220.15,577.03 220.40,577.23 220.65,577.41 220.90,577.58 221.15,577.75 221.40,577.90 221.65,578.03 221.90,578.15 222.15,578.26 222.40,578.34 222.65,578.41 222.90,578.47 223.15,578.52 223.40,578.56 223.65,578.60 223.90,578.63 224.15,578.67 224.40,578.70 224.65,578.74 224.90,578.78 225.15,578.83 225.40,578.88 225.65,578.93 225.90,578.98 226.15,579.04 226.40,579.10 226.65,579.16 226.90,579.22 227.15,579.28 227.40,579.34 227.65,579.41 227.90,579.47 228.15,579.54 228.40,579.60 228.65,579.66 228.90,579.73 229.15,579.79 229.40,579.85 229.65,579.91 229.90,579.97 230.15,580.03 230.40,580.08 230.65,580.14 230.90,580.19 231.15,580.23 231.40,580.28 231.65,580.32 231.90,580.36 232.15,580.39 232.40,580.43 232.65,580.46 232.90,580.49 233.15,580.52 233.40,580.55 233.65,580.58 233.90,580.62 234.15,580.65 234.40,580.68 234.65,580.71 234.90,580.74 235.15,580.77 235.40,580.80 235.65,580.83 235.90,580.85 236.15,580.88 236.40,580.91 236.65,580.93 236.90,580.96 237.15,580.99 237.40,581.01 237.65,581.03 237.90,581.06 238.15,581.08 238.40,581.10 238.65,581.12 238.90,581.14 239.15,581.16 239.40,581.18 239.65,581.19 239.90,581.21 240.15,581.22 240.40,581.24 240.65,581.25 240.90,581.26 241.15,581.27 241.40,581.28 241.65,581.29 241.90,581.29 242.15,581.30 242.40,581.30" fill="none" stroke="#b41e1e" stroke-width="1.0" stroke-linejoin="round" /><path d="M204.9,419 L205.8,416.3 L206.7,419" fill="none" stroke="#2424a4" stroke-width="1"/><path d="M91.1,510.5 L92,508.5 L92.9,510.5" fill="none" stroke="#2424a4" stroke-width="1"/><line x1="17.2" y1="390.0" x2="243.2" y2="390.0" stroke="#8a8a8a" stroke-width="1.4"/><line x1="242.5" y1="389.3" x2="242.5" y2="597.8000000000001" stroke="#6a6a6a" stroke-width="1.4"/><line x1="17.9" y1="389.3" x2="17.9" y2="597.8000000000001" stroke="#a8a8a8" stroke-width="1.4"/><line x1="17.2" y1="597.1" x2="243.2" y2="597.1" stroke="#454545" stroke-width="1.4"/><line x1="17.90" y1="597.1" x2="17.90" y2="600.6" stroke="#555" stroke-width="0.9"/><line x1="17.90" y1="390.0" x2="17.90" y2="393.5" stroke="#555" stroke-width="0.9"/><line x1="46.68" y1="597.1" x2="46.68" y2="600.6" stroke="#555" stroke-width="0.9"/><line x1="46.68" y1="390.0" x2="46.68" y2="393.5" stroke="#555" stroke-width="0.9"/><line x1="75.47" y1="597.1" x2="75.47" y2="600.6" stroke="#555" stroke-width="0.9"/><line x1="75.47" y1="390.0" x2="75.47" y2="393.5" stroke="#555" stroke-width="0.9"/><line x1="104.25" y1="597.1" x2="104.25" y2="600.6" stroke="#555" stroke-width="0.9"/><line x1="104.25" y1="390.0" x2="104.25" y2="393.5" stroke="#555" stroke-width="0.9"/><line x1="133.04" y1="597.1" x2="133.04" y2="600.6" stroke="#555" stroke-width="0.9"/><line x1="133.04" y1="390.0" x2="133.04" y2="393.5" stroke="#555" stroke-width="0.9"/><line x1="161.82" y1="597.1" x2="161.82" y2="600.6" stroke="#555" stroke-width="0.9"/><line x1="161.82" y1="390.0" x2="161.82" y2="393.5" stroke="#555" stroke-width="0.9"/><line x1="190.61" y1="597.1" x2="190.61" y2="600.6" stroke="#555" stroke-width="0.9"/><line x1="190.61" y1="390.0" x2="190.61" y2="393.5" stroke="#555" stroke-width="0.9"/><line x1="219.39" y1="597.1" x2="219.39" y2="600.6" stroke="#555" stroke-width="0.9"/><line x1="219.39" y1="390.0" x2="219.39" y2="393.5" stroke="#555" stroke-width="0.9"/><line x1="32.29" y1="597.1" x2="32.29" y2="599.1" stroke="#555" stroke-width="0.9"/><line x1="32.29" y1="390.0" x2="32.29" y2="392.0" stroke="#555" stroke-width="0.9"/><line x1="61.08" y1="597.1" x2="61.08" y2="599.1" stroke="#555" stroke-width="0.9"/><line x1="61.08" y1="390.0" x2="61.08" y2="392.0" stroke="#555" stroke-width="0.9"/><line x1="89.86" y1="597.1" x2="89.86" y2="599.1" stroke="#555" stroke-width="0.9"/><line x1="89.86" y1="390.0" x2="89.86" y2="392.0" stroke="#555" stroke-width="0.9"/><line x1="118.65" y1="597.1" x2="118.65" y2="599.1" stroke="#555" stroke-width="0.9"/><line x1="118.65" y1="390.0" x2="118.65" y2="392.0" stroke="#555" stroke-width="0.9"/><line x1="147.43" y1="597.1" x2="147.43" y2="599.1" stroke="#555" stroke-width="0.9"/><line x1="147.43" y1="390.0" x2="147.43" y2="392.0" stroke="#555" stroke-width="0.9"/><line x1="176.22" y1="597.1" x2="176.22" y2="599.1" stroke="#555" stroke-width="0.9"/><line x1="176.22" y1="390.0" x2="176.22" y2="392.0" stroke="#555" stroke-width="0.9"/><line x1="205.00" y1="597.1" x2="205.00" y2="599.1" stroke="#555" stroke-width="0.9"/><line x1="205.00" y1="390.0" x2="205.00" y2="392.0" stroke="#555" stroke-width="0.9"/><line x1="233.79" y1="597.1" x2="233.79" y2="599.1" stroke="#555" stroke-width="0.9"/><line x1="233.79" y1="390.0" x2="233.79" y2="392.0" stroke="#555" stroke-width="0.9"/><line x1="14.7" y1="426.50" x2="17.9" y2="426.50" stroke="#555" stroke-width="0.9"/><line x1="239.3" y1="426.50" x2="242.5" y2="426.50" stroke="#555" stroke-width="0.9"/><line x1="14.7" y1="472.60" x2="17.9" y2="472.60" stroke="#555" stroke-width="0.9"/><line x1="239.3" y1="472.60" x2="242.5" y2="472.60" stroke="#555" stroke-width="0.9"/><line x1="14.7" y1="519.00" x2="17.9" y2="519.00" stroke="#555" stroke-width="0.9"/><line x1="239.3" y1="519.00" x2="242.5" y2="519.00" stroke="#555" stroke-width="0.9"/><line x1="14.7" y1="565.10" x2="17.9" y2="565.10" stroke="#555" stroke-width="0.9"/><line x1="239.3" y1="565.10" x2="242.5" y2="565.10" stroke="#555" stroke-width="0.9"/><line x1="16.099999999999998" y1="403.30" x2="17.9" y2="403.30" stroke="#555" stroke-width="0.9"/><line x1="240.7" y1="403.30" x2="242.5" y2="403.30" stroke="#555" stroke-width="0.9"/><line x1="16.099999999999998" y1="449.60" x2="17.9" y2="449.60" stroke="#555" stroke-width="0.9"/><line x1="240.7" y1="449.60" x2="242.5" y2="449.60" stroke="#555" stroke-width="0.9"/><line x1="16.099999999999998" y1="495.80" x2="17.9" y2="495.80" stroke="#555" stroke-width="0.9"/><line x1="240.7" y1="495.80" x2="242.5" y2="495.80" stroke="#555" stroke-width="0.9"/><line x1="16.099999999999998" y1="542.00" x2="17.9" y2="542.00" stroke="#555" stroke-width="0.9"/><line x1="240.7" y1="542.00" x2="242.5" y2="542.00" stroke="#555" stroke-width="0.9"/><line x1="16.099999999999998" y1="588.10" x2="17.9" y2="588.10" stroke="#555" stroke-width="0.9"/><line x1="240.7" y1="588.10" x2="242.5" y2="588.10" stroke="#555" stroke-width="0.9"/><text transform="translate(11.56,609.00) scale(0.8528,1)" font-size="8.88" font-weight="bold" fill="#000" >965</text><text transform="translate(40.34,609.00) scale(0.8597,1)" font-size="8.88" font-weight="bold" fill="#000" >960</text><text transform="translate(69.13,609.00) scale(0.8528,1)" font-size="8.88" font-weight="bold" fill="#000" >955</text><text transform="translate(97.91,609.00) scale(0.8597,1)" font-size="8.88" font-weight="bold" fill="#000" >950</text><text transform="translate(126.70,609.00) scale(0.8528,1)" font-size="8.88" font-weight="bold" fill="#000" >945</text><text transform="translate(155.48,609.00) scale(0.8597,1)" font-size="8.88" font-weight="bold" fill="#000" >940</text><text transform="translate(184.27,609.00) scale(0.8528,1)" font-size="8.88" font-weight="bold" fill="#000" >935</text><text transform="translate(213.05,609.00) scale(0.8597,1)" font-size="8.88" font-weight="bold" fill="#000" >930</text><text transform="translate(83.74,625.90) scale(0.9878,1)" font-size="9.93" font-weight="bold" fill="#000" >Binding energy (eV)</text><text transform="translate(7.50,546.11) rotate(-90) scale(1.0565,1)" font-size="10.07" font-weight="bold" fill="#000">Intensity (arb. units)</text><text transform="translate(21.48,402.27) scale(1.1371,1)" font-size="7.40" font-weight="bold" fill="#000" >(b)</text><text transform="translate(22.48,415.10) scale(1.0108,1)" font-size="7.74" font-weight="bold" fill="#000" >Cu2p</text><text transform="translate(82.43,505.40) scale(0.9443,1)" font-size="8.17" font-weight="bold" fill="#000" >952.1</text><text transform="translate(194.62,409.90) scale(1.0027,1)" font-size="7.88" font-weight="bold" fill="#000" >932.3</text>
<g fill="none" stroke="#1e1e1e" stroke-width="0.7"><circle cx="282.20" cy="567.04" r="1.5"/><circle cx="283.24" cy="566.80" r="1.5"/><circle cx="284.29" cy="566.80" r="1.5"/><circle cx="285.33" cy="566.17" r="1.5"/><circle cx="286.38" cy="567.41" r="1.5"/><circle cx="287.42" cy="567.19" r="1.5"/><circle cx="288.47" cy="566.73" r="1.5"/><circle cx="289.51" cy="567.04" r="1.5"/><circle cx="290.55" cy="566.88" r="1.5"/><circle cx="291.60" cy="566.61" r="1.5"/><circle cx="292.64" cy="567.06" r="1.5"/><circle cx="293.69" cy="566.66" r="1.5"/><circle cx="294.73" cy="566.65" r="1.5"/><circle cx="295.78" cy="566.50" r="1.5"/><circle cx="296.82" cy="566.87" r="1.5"/><circle cx="297.86" cy="566.69" r="1.5"/><circle cx="298.91" cy="566.88" r="1.5"/><circle cx="299.95" cy="566.52" r="1.5"/><circle cx="301.00" cy="566.73" r="1.5"/><circle cx="302.04" cy="566.41" r="1.5"/><circle cx="303.09" cy="566.93" r="1.5"/><circle cx="304.13" cy="566.72" r="1.5"/><circle cx="305.17" cy="566.75" r="1.5"/><circle cx="306.22" cy="566.76" r="1.5"/><circle cx="307.26" cy="566.31" r="1.5"/><circle cx="308.31" cy="566.82" r="1.5"/><circle cx="309.35" cy="567.05" r="1.5"/><circle cx="310.40" cy="565.69" r="1.5"/><circle cx="311.44" cy="565.39" r="1.5"/><circle cx="312.48" cy="565.14" r="1.5"/><circle cx="313.53" cy="565.45" r="1.5"/><circle cx="314.57" cy="564.75" r="1.5"/><circle cx="315.62" cy="564.41" r="1.5"/><circle cx="316.66" cy="563.50" r="1.5"/><circle cx="317.71" cy="562.35" r="1.5"/><circle cx="318.75" cy="561.07" r="1.5"/><circle cx="319.79" cy="559.37" r="1.5"/><circle cx="320.84" cy="557.71" r="1.5"/><circle cx="321.88" cy="554.40" r="1.5"/><circle cx="322.93" cy="551.32" r="1.5"/><circle cx="323.97" cy="547.55" r="1.5"/><circle cx="325.02" cy="544.12" r="1.5"/><circle cx="326.06" cy="540.33" r="1.5"/><circle cx="327.10" cy="536.45" r="1.5"/><circle cx="328.15" cy="531.58" r="1.5"/><circle cx="329.19" cy="526.95" r="1.5"/><circle cx="330.24" cy="519.41" r="1.5"/><circle cx="331.28" cy="511.81" r="1.5"/><circle cx="332.33" cy="500.47" r="1.5"/><circle cx="333.37" cy="489.39" r="1.5"/><circle cx="334.42" cy="475.90" r="1.5"/><circle cx="335.46" cy="465.26" r="1.5"/><circle cx="336.50" cy="460.23" r="1.5"/><circle cx="337.55" cy="457.02" r="1.5"/><circle cx="338.59" cy="456.39" r="1.5"/><circle cx="339.64" cy="459.23" r="1.5"/><circle cx="340.68" cy="468.77" r="1.5"/><circle cx="341.73" cy="478.97" r="1.5"/><circle cx="342.77" cy="491.78" r="1.5"/><circle cx="343.81" cy="503.86" r="1.5"/><circle cx="344.86" cy="515.69" r="1.5"/><circle cx="345.90" cy="525.51" r="1.5"/><circle cx="346.95" cy="532.65" r="1.5"/><circle cx="347.99" cy="538.48" r="1.5"/><circle cx="349.04" cy="544.40" r="1.5"/><circle cx="350.08" cy="550.08" r="1.5"/><circle cx="351.12" cy="554.57" r="1.5"/><circle cx="352.17" cy="558.23" r="1.5"/><circle cx="353.21" cy="562.70" r="1.5"/><circle cx="354.26" cy="565.32" r="1.5"/><circle cx="355.30" cy="568.32" r="1.5"/><circle cx="356.35" cy="570.07" r="1.5"/><circle cx="357.39" cy="571.84" r="1.5"/><circle cx="358.43" cy="573.75" r="1.5"/><circle cx="359.48" cy="574.67" r="1.5"/><circle cx="360.52" cy="575.23" r="1.5"/><circle cx="361.57" cy="576.10" r="1.5"/><circle cx="362.61" cy="577.53" r="1.5"/><circle cx="363.66" cy="577.63" r="1.5"/><circle cx="364.70" cy="578.12" r="1.5"/><circle cx="365.74" cy="578.34" r="1.5"/><circle cx="366.79" cy="578.55" r="1.5"/><circle cx="367.83" cy="579.24" r="1.5"/><circle cx="368.88" cy="579.03" r="1.5"/><circle cx="369.92" cy="578.91" r="1.5"/><circle cx="370.97" cy="579.16" r="1.5"/><circle cx="372.01" cy="578.98" r="1.5"/><circle cx="373.05" cy="579.34" r="1.5"/><circle cx="374.10" cy="579.64" r="1.5"/><circle cx="375.14" cy="579.04" r="1.5"/><circle cx="376.19" cy="579.67" r="1.5"/><circle cx="377.23" cy="578.96" r="1.5"/><circle cx="378.28" cy="579.09" r="1.5"/><circle cx="379.32" cy="578.66" r="1.5"/><circle cx="380.36" cy="578.70" r="1.5"/><circle cx="381.41" cy="578.63" r="1.5"/><circle cx="382.45" cy="578.33" r="1.5"/><circle cx="383.50" cy="578.06" r="1.5"/><circle cx="384.54" cy="577.83" r="1.5"/><circle cx="385.59" cy="577.51" r="1.5"/><circle cx="386.63" cy="577.00" r="1.5"/><circle cx="387.67" cy="577.09" r="1.5"/><circle cx="388.72" cy="576.99" r="1.5"/><circle cx="389.76" cy="576.86" r="1.5"/><circle cx="390.81" cy="576.51" r="1.5"/><circle cx="391.85" cy="576.78" r="1.5"/><circle cx="392.90" cy="575.87" r="1.5"/><circle cx="393.94" cy="575.37" r="1.5"/><circle cx="394.98" cy="575.81" r="1.5"/><circle cx="396.03" cy="574.69" r="1.5"/><circle cx="397.07" cy="575.07" r="1.5"/><circle cx="398.12" cy="574.27" r="1.5"/><circle cx="399.16" cy="574.45" r="1.5"/><circle cx="400.21" cy="573.55" r="1.5"/><circle cx="401.25" cy="574.23" r="1.5"/><circle cx="402.29" cy="573.75" r="1.5"/><circle cx="403.34" cy="573.37" r="1.5"/><circle cx="404.38" cy="574.08" r="1.5"/><circle cx="405.43" cy="573.73" r="1.5"/><circle cx="406.47" cy="573.42" r="1.5"/><circle cx="407.52" cy="572.99" r="1.5"/><circle cx="408.56" cy="572.59" r="1.5"/><circle cx="409.60" cy="571.63" r="1.5"/><circle cx="410.65" cy="570.87" r="1.5"/><circle cx="411.69" cy="569.71" r="1.5"/><circle cx="412.74" cy="567.88" r="1.5"/><circle cx="413.78" cy="566.42" r="1.5"/><circle cx="414.83" cy="564.87" r="1.5"/><circle cx="415.87" cy="562.84" r="1.5"/><circle cx="416.91" cy="560.88" r="1.5"/><circle cx="417.96" cy="558.31" r="1.5"/><circle cx="419.00" cy="555.01" r="1.5"/><circle cx="420.05" cy="550.08" r="1.5"/><circle cx="421.09" cy="545.72" r="1.5"/><circle cx="422.14" cy="542.34" r="1.5"/><circle cx="423.18" cy="535.81" r="1.5"/><circle cx="424.22" cy="527.92" r="1.5"/><circle cx="425.27" cy="520.59" r="1.5"/><circle cx="426.31" cy="514.82" r="1.5"/><circle cx="427.36" cy="507.95" r="1.5"/><circle cx="428.40" cy="498.59" r="1.5"/><circle cx="429.45" cy="484.57" r="1.5"/><circle cx="430.49" cy="469.43" r="1.5"/><circle cx="431.53" cy="453.96" r="1.5"/><circle cx="432.58" cy="439.96" r="1.5"/><circle cx="433.62" cy="424.91" r="1.5"/><circle cx="434.67" cy="413.97" r="1.5"/><circle cx="435.71" cy="411.65" r="1.5"/><circle cx="436.76" cy="414.13" r="1.5"/><circle cx="437.80" cy="421.16" r="1.5"/><circle cx="438.85" cy="434.11" r="1.5"/><circle cx="439.89" cy="452.83" r="1.5"/><circle cx="440.93" cy="469.02" r="1.5"/><circle cx="441.98" cy="483.75" r="1.5"/><circle cx="443.02" cy="498.51" r="1.5"/><circle cx="444.07" cy="512.01" r="1.5"/><circle cx="445.11" cy="524.17" r="1.5"/><circle cx="446.16" cy="536.30" r="1.5"/><circle cx="447.20" cy="545.13" r="1.5"/><circle cx="448.24" cy="553.91" r="1.5"/><circle cx="449.29" cy="558.67" r="1.5"/><circle cx="450.33" cy="565.40" r="1.5"/><circle cx="451.38" cy="570.20" r="1.5"/><circle cx="452.42" cy="573.53" r="1.5"/><circle cx="453.47" cy="577.67" r="1.5"/><circle cx="454.51" cy="579.73" r="1.5"/><circle cx="455.55" cy="581.52" r="1.5"/><circle cx="456.60" cy="583.32" r="1.5"/><circle cx="457.64" cy="584.33" r="1.5"/><circle cx="458.69" cy="585.11" r="1.5"/><circle cx="459.73" cy="585.55" r="1.5"/><circle cx="460.78" cy="586.60" r="1.5"/><circle cx="461.82" cy="587.13" r="1.5"/><circle cx="462.86" cy="587.11" r="1.5"/><circle cx="463.91" cy="587.99" r="1.5"/><circle cx="464.95" cy="588.09" r="1.5"/><circle cx="466.00" cy="587.57" r="1.5"/><circle cx="467.04" cy="588.39" r="1.5"/><circle cx="468.09" cy="588.15" r="1.5"/><circle cx="469.13" cy="589.04" r="1.5"/><circle cx="470.17" cy="589.09" r="1.5"/><circle cx="471.22" cy="588.67" r="1.5"/><circle cx="472.26" cy="588.88" r="1.5"/><circle cx="473.31" cy="589.32" r="1.5"/><circle cx="474.35" cy="589.35" r="1.5"/><circle cx="475.40" cy="590.00" r="1.5"/><circle cx="476.44" cy="589.88" r="1.5"/><circle cx="477.48" cy="589.69" r="1.5"/><circle cx="478.53" cy="590.05" r="1.5"/><circle cx="479.57" cy="589.37" r="1.5"/><circle cx="480.62" cy="590.17" r="1.5"/><circle cx="481.66" cy="590.42" r="1.5"/><circle cx="482.71" cy="590.20" r="1.5"/><circle cx="483.75" cy="590.12" r="1.5"/><circle cx="484.79" cy="590.59" r="1.5"/><circle cx="485.84" cy="591.09" r="1.5"/><circle cx="486.88" cy="590.64" r="1.5"/><circle cx="487.93" cy="590.32" r="1.5"/><circle cx="488.97" cy="591.17" r="1.5"/><circle cx="490.02" cy="590.25" r="1.5"/><circle cx="491.06" cy="591.03" r="1.5"/><circle cx="492.10" cy="590.78" r="1.5"/><circle cx="493.15" cy="591.30" r="1.5"/><circle cx="494.19" cy="590.83" r="1.5"/><circle cx="495.24" cy="591.54" r="1.5"/><circle cx="496.28" cy="591.29" r="1.5"/><circle cx="497.33" cy="590.73" r="1.5"/><circle cx="498.37" cy="590.70" r="1.5"/><circle cx="499.41" cy="591.24" r="1.5"/><circle cx="500.46" cy="591.77" r="1.5"/></g><polyline points="281.80,567.40 282.30,567.41 282.80,567.41 283.30,567.42 283.80,567.42 284.30,567.43 284.80,567.44 285.30,567.44 285.80,567.45 286.30,567.46 286.80,567.46 287.30,567.47 287.80,567.48 288.30,567.49 288.80,567.49 289.30,567.50 289.80,567.51 290.30,567.52 290.80,567.53 291.30,567.53 291.80,567.54 292.30,567.55 292.80,567.56 293.30,567.57 293.80,567.58 294.30,567.59 294.80,567.60 295.30,567.61 295.80,567.62 296.30,567.63 296.80,567.64 297.30,567.65 297.80,567.66 298.30,567.67 298.80,567.68 299.30,567.69 299.80,567.70 300.30,567.71 300.80,567.72 301.30,567.73 301.80,567.74 302.30,567.75 302.80,567.76 303.30,567.77 303.80,567.78 304.30,567.79 304.80,567.80 305.30,567.81 305.80,567.83 306.30,567.84 306.80,567.85 307.30,567.86 307.80,567.88 308.30,567.89 308.80,567.91 309.30,567.92 309.80,567.94 310.30,567.96 310.80,567.97 311.30,567.99 311.80,568.01 312.30,568.03 312.80,568.06 313.30,568.08 313.80,568.11 314.30,568.14 314.80,568.17 315.30,568.20 315.80,568.23 316.30,568.27 316.80,568.31 317.30,568.34 317.80,568.38 318.30,568.42 318.80,568.47 319.30,568.51 319.80,568.56 320.30,568.61 320.80,568.67 321.30,568.72 321.80,568.78 322.30,568.85 322.80,568.92 323.30,568.99 323.80,569.07 324.30,569.15 324.80,569.25 325.30,569.36 325.80,569.48 326.30,569.61 326.80,569.75 327.30,569.89 327.80,570.04 328.30,570.19 328.80,570.35 329.30,570.52 329.80,570.70 330.30,570.88 330.80,571.07 331.30,571.26 331.80,571.46 332.30,571.66 332.80,571.87 333.30,572.09 333.80,572.31 334.30,572.53 334.80,572.76 335.30,572.98 335.80,573.20 336.30,573.42 336.80,573.63 337.30,573.85 337.80,574.06 338.30,574.28 338.80,574.49 339.30,574.70 339.80,574.90 340.30,575.10 340.80,575.30 341.30,575.50 341.80,575.69 342.30,575.88 342.80,576.07 343.30,576.26 343.80,576.44 344.30,576.62 344.80,576.80 345.30,576.98 345.80,577.15 346.30,577.32 346.80,577.48 347.30,577.62 347.80,577.75 348.30,577.87 348.80,577.99 349.30,578.10 349.80,578.20 350.30,578.29 350.80,578.38 351.30,578.47 351.80,578.55 352.30,578.63 352.80,578.70 353.30,578.78 353.80,578.84 354.30,578.90 354.80,578.95 355.30,578.99 355.80,579.01 356.30,579.04 356.80,579.06 357.30,579.08 357.80,579.10 358.30,579.11 358.80,579.13 359.30,579.14 359.80,579.16 360.30,579.17 360.80,579.18 361.30,579.19 361.80,579.20 362.30,579.22 362.80,579.23 363.30,579.23 363.80,579.24 364.30,579.25 364.80,579.26 365.30,579.27 365.80,579.28 366.30,579.30 366.80,579.31 367.30,579.32 367.80,579.33 368.30,579.34 368.80,579.35 369.30,579.36 369.80,579.37 370.30,579.38 370.80,579.39 371.30,579.40 371.80,579.41 372.30,579.42 372.80,579.43 373.30,579.44 373.80,579.45 374.30,579.46 374.80,579.47 375.30,579.48 375.80,579.49 376.30,579.50 376.80,579.51 377.30,579.52 377.80,579.53 378.30,579.53 378.80,579.54 379.30,579.55 379.80,579.56 380.30,579.57 380.80,579.58 381.30,579.59 381.80,579.59 382.30,579.60 382.80,579.61 383.30,579.62 383.80,579.62 384.30,579.63 384.80,579.64 385.30,579.64 385.80,579.65 386.30,579.65 386.80,579.66 387.30,579.66 387.80,579.67 388.30,579.67 388.80,579.68 389.30,579.69 389.80,579.69 390.30,579.70 390.80,579.70 391.30,579.71 391.80,579.72 392.30,579.72 392.80,579.73 393.30,579.74 393.80,579.75 394.30,579.75 394.80,579.76 395.30,579.77 395.80,579.78 396.30,579.80 396.80,579.81 397.30,579.82 397.80,579.84 398.30,579.86 398.80,579.89 399.30,579.91 399.80,579.94 400.30,579.97 400.80,580.00 401.30,580.04 401.80,580.07 402.30,580.11 402.80,580.14 403.30,580.18 403.80,580.21 404.30,580.25 404.80,580.29 405.30,580.32 405.80,580.36 406.30,580.40 406.80,580.44 407.30,580.48 407.80,580.52 408.30,580.56 408.80,580.61 409.30,580.65 409.80,580.70 410.30,580.75 410.80,580.79 411.30,580.84 411.80,580.89 412.30,580.94 412.80,580.99 413.30,581.04 413.80,581.09 414.30,581.14 414.80,581.19 415.30,581.24 415.80,581.29 416.30,581.34 416.80,581.39 417.30,581.45 417.80,581.51 418.30,581.57 418.80,581.63 419.30,581.70 419.80,581.77 420.30,581.85 420.80,581.93 421.30,582.01 421.80,582.10 422.30,582.20 422.80,582.30 423.30,582.41 423.80,582.52 424.30,582.64 424.80,582.76 425.30,582.89 425.80,583.02 426.30,583.16 426.80,583.31 427.30,583.48 427.80,583.65 428.30,583.84 428.80,584.04 429.30,584.24 429.80,584.44 430.30,584.64 430.80,584.85 431.30,585.06 431.80,585.28 432.30,585.50 432.80,585.73 433.30,585.96 433.80,586.18 434.30,586.40 434.80,586.62 435.30,586.84 435.80,587.06 436.30,587.28 436.80,587.50 437.30,587.72 437.80,587.92 438.30,588.12 438.80,588.31 439.30,588.50 439.80,588.69 440.30,588.87 440.80,589.04 441.30,589.21 441.80,589.37 442.30,589.52 442.80,589.65 443.30,589.78 443.80,589.91 444.30,590.03 444.80,590.14 445.30,590.25 445.80,590.34 446.30,590.43 446.80,590.52 447.30,590.59 447.80,590.66 448.30,590.73 448.80,590.80 449.30,590.86 449.80,590.91 450.30,590.96 450.80,591.00 451.30,591.04 451.80,591.08 452.30,591.11 452.80,591.15 453.30,591.18 453.80,591.21 454.30,591.24 454.80,591.27 455.30,591.30 455.80,591.33 456.30,591.36 456.80,591.39 457.30,591.41 457.80,591.43 458.30,591.46 458.80,591.48 459.30,591.50 459.80,591.52 460.30,591.54 460.80,591.55 461.30,591.57 461.80,591.59 462.30,591.60 462.80,591.61 463.30,591.63 463.80,591.64 464.30,591.65 464.80,591.66 465.30,591.67 465.80,591.68 466.30,591.69 466.80,591.70 467.30,591.71 467.80,591.72 468.30,591.73 468.80,591.74 469.30,591.74 469.80,591.75 470.30,591.76 470.80,591.77 471.30,591.77 471.80,591.78 472.30,591.79 472.80,591.80 473.30,591.80 473.80,591.81 474.30,591.82 474.80,591.83 475.30,591.83 475.80,591.84 476.30,591.85 476.80,591.86 477.30,591.87 477.80,591.88 478.30,591.89 478.80,591.90 479.30,591.91 479.80,591.92 480.30,591.93 480.80,591.94 481.30,591.96 481.80,591.97 482.30,591.98 482.80,591.99 483.30,592.00 483.80,592.01 484.30,592.03 484.80,592.04 485.30,592.05 485.80,592.06 486.30,592.08 486.80,592.09 487.30,592.10 487.80,592.11 488.30,592.13 488.80,592.14 489.30,592.15 489.80,592.17 490.30,592.18 490.80,592.19 491.30,592.21 491.80,592.22 492.30,592.24 492.80,592.25 493.30,592.26 493.80,592.28 494.30,592.29 494.80,592.31 495.30,592.32 495.80,592.34 496.30,592.35 496.80,592.37 497.30,592.38 497.80,592.40 498.30,592.41 498.80,592.43 499.30,592.44 499.80,592.46 500.30,592.47 500.80,592.49" fill="none" stroke="#2424a4" stroke-width="1.0" stroke-linejoin="round" /><polyline points="281.80,567.00 282.05,566.99 282.30,566.98 282.55,566.98 282.80,566.97 283.05,566.96 283.30,566.95 283.55,566.95 283.80,566.94 284.05,566.93 284.30,566.93 284.55,566.92 284.80,566.91 285.05,566.91 285.30,566.90 285.55,566.89 285.80,566.89 286.05,566.88 286.30,566.87 286.55,566.87 286.80,566.86 287.05,566.86 287.30,566.85 287.55,566.84 287.80,566.84 288.05,566.83 288.30,566.83 288.55,566.82 288.80,566.82 289.05,566.82 289.30,566.81 289.55,566.81 289.80,566.80 290.05,566.80 290.30,566.80 290.55,566.79 290.80,566.79 291.05,566.79 291.30,566.78 291.55,566.78 291.80,566.78 292.05,566.77 292.30,566.77 292.55,566.77 292.80,566.77 293.05,566.76 293.30,566.76 293.55,566.76 293.80,566.76 294.05,566.75 294.30,566.75 294.55,566.75 294.80,566.75 295.05,566.75 295.30,566.74 295.55,566.74 295.80,566.74 296.05,566.74 296.30,566.73 296.55,566.73 296.80,566.73 297.05,566.73 297.30,566.73 297.55,566.72 297.80,566.72 298.05,566.72 298.30,566.72 298.55,566.71 298.80,566.71 299.05,566.71 299.30,566.71 299.55,566.70 299.80,566.70 300.05,566.70 300.30,566.70 300.55,566.69 300.80,566.69 301.05,566.69 301.30,566.69 301.55,566.69 301.80,566.68 302.05,566.68 302.30,566.68 302.55,566.68 302.80,566.68 303.05,566.67 303.30,566.67 303.55,566.67 303.80,566.67 304.05,566.67 304.30,566.66 304.55,566.66 304.80,566.66 305.05,566.65 305.30,566.65 305.55,566.65 305.80,566.64 306.05,566.64 306.30,566.64 306.55,566.63 306.80,566.63 307.05,566.62 307.30,566.62 307.55,566.61 307.80,566.61 308.05,566.60 308.30,566.58 308.55,566.56 308.80,566.53 309.05,566.49 309.30,566.44 309.55,566.39 309.80,566.33 310.05,566.27 310.30,566.21 310.55,566.14 310.80,566.08 311.05,566.01 311.30,565.95 311.55,565.88 311.80,565.81 312.05,565.73 312.30,565.64 312.55,565.53 312.80,565.40 313.05,565.26 313.30,565.11 313.55,564.94 313.80,564.75 314.05,564.56 314.30,564.36 314.55,564.14 314.80,563.92 315.05,563.68 315.30,563.43 315.55,563.18 315.80,562.91 316.05,562.64 316.30,562.37 316.55,562.10 316.80,561.82 317.05,561.55 317.30,561.27 317.55,560.98 317.80,560.69 318.05,560.39 318.30,560.08 318.55,559.76 318.80,559.42 319.05,559.06 319.30,558.70 319.55,558.32 319.80,557.91 320.05,557.49 320.30,557.03 320.55,556.55 320.80,556.03 321.05,555.49 321.30,554.88 321.55,554.20 321.80,553.49 322.05,552.75 322.30,551.99 322.55,551.21 322.80,550.38 323.05,549.53 323.30,548.64 323.55,547.67 323.80,546.67 324.05,545.66 324.30,544.72 324.55,543.85 324.80,543.00 325.05,542.21 325.30,541.49 325.55,540.86 325.80,540.34 326.05,539.87 326.30,539.37 326.55,538.77 326.80,537.98 327.05,536.86 327.30,535.56 327.55,534.29 327.80,533.19 328.05,532.15 328.30,531.14 328.55,530.08 328.80,528.92 329.05,527.55 329.30,525.96 329.55,524.24 329.80,522.50 330.05,520.78 330.30,519.05 330.55,517.27 330.80,515.40 331.05,513.41 331.30,511.25 331.55,508.90 331.80,506.42 332.05,503.89 332.30,501.31 332.55,498.65 332.80,495.89 333.05,493.01 333.30,489.95 333.55,486.74 333.80,483.52 334.05,480.37 334.30,477.10 334.55,473.87 334.80,471.04 335.05,468.83 335.30,466.85 335.55,465.07 335.80,463.59 336.05,462.46 336.30,461.68 336.55,461.08 336.80,460.52 337.05,460.04 337.30,459.63 337.55,459.31 337.80,459.09 338.05,459.00 338.30,459.01 338.55,459.06 338.80,459.17 339.05,459.33 339.30,459.57 339.55,459.88 339.80,460.63 340.05,462.28 340.30,464.49 340.55,466.86 340.80,469.19 341.05,471.66 341.30,474.23 341.55,476.93 341.80,479.76 342.05,482.83 342.30,486.03 342.55,489.19 342.80,492.23 343.05,495.25 343.30,498.23 343.55,501.13 343.80,503.94 344.05,506.66 344.30,509.35 344.55,512.05 344.80,514.84 345.05,517.63 345.30,520.24 345.55,522.57 345.80,524.73 346.05,526.74 346.30,528.58 346.55,530.21 346.80,531.67 347.05,533.01 347.30,534.27 347.55,535.52 347.80,536.78 348.05,538.01 348.30,539.23 348.55,540.46 348.80,541.73 349.05,543.08 349.30,544.55 349.55,546.07 349.80,547.53 350.05,548.82 350.30,549.99 350.55,551.08 350.80,552.12 351.05,553.11 351.30,554.07 351.55,555.00 351.80,555.90 352.05,556.79 352.30,557.64 352.55,558.47 352.80,559.28 353.05,560.05 353.30,560.80 353.55,561.53 353.80,562.25 354.05,562.95 354.30,563.64 354.55,564.30 354.80,564.94 355.05,565.55 355.30,566.14 355.55,566.70 355.80,567.25 356.05,567.80 356.30,568.33 356.55,568.86 356.80,569.37 357.05,569.87 357.30,570.35 357.55,570.80 357.80,571.22 358.05,571.61 358.30,571.98 358.55,572.31 358.80,572.62 359.05,572.92 359.30,573.22 359.55,573.51 359.80,573.80 360.05,574.08 360.30,574.35 360.55,574.61 360.80,574.87 361.05,575.12 361.30,575.35 361.55,575.58 361.80,575.80 362.05,576.01 362.30,576.21 362.55,576.40 362.80,576.57 363.05,576.74 363.30,576.89 363.55,577.05 363.80,577.20 364.05,577.35 364.30,577.50 364.55,577.64 364.80,577.78 365.05,577.92 365.30,578.06 365.55,578.19 365.80,578.31 366.05,578.42 366.30,578.53 366.55,578.63 366.80,578.72 367.05,578.80 367.30,578.87 367.55,578.92 367.80,578.97 368.05,579.00 368.30,579.02 368.55,579.04 368.80,579.06 369.05,579.08 369.30,579.10 369.55,579.11 369.80,579.13 370.05,579.15 370.30,579.17 370.55,579.18 370.80,579.19 371.05,579.21 371.30,579.22 371.55,579.23 371.80,579.24 372.05,579.25 372.30,579.26 372.55,579.27 372.80,579.28 373.05,579.28 373.30,579.29 373.55,579.29 373.80,579.30 374.05,579.30 374.30,579.30 374.55,579.30 374.80,579.30 375.05,579.29 375.30,579.28 375.55,579.27 375.80,579.26 376.05,579.25 376.30,579.23 376.55,579.21 376.80,579.19 377.05,579.17 377.30,579.15 377.55,579.12 377.80,579.10 378.05,579.07 378.30,579.04 378.55,579.01 378.80,578.98 379.05,578.95 379.30,578.92 379.55,578.88 379.80,578.85 380.05,578.81 380.30,578.78 380.55,578.74 380.80,578.71 381.05,578.67 381.30,578.63 381.55,578.60 381.80,578.56 382.05,578.52 382.30,578.49 382.55,578.45 382.80,578.40 383.05,578.36 383.30,578.31 383.55,578.26 383.80,578.20 384.05,578.15 384.30,578.09 384.55,578.03 384.80,577.97 385.05,577.90 385.30,577.84 385.55,577.77 385.80,577.70 386.05,577.63 386.30,577.56 386.55,577.49 386.80,577.42 387.05,577.35 387.30,577.28 387.55,577.20 387.80,577.13 388.05,577.06 388.30,576.99 388.55,576.92 388.80,576.85 389.05,576.78 389.30,576.71 389.55,576.64 389.80,576.58 390.05,576.51 390.30,576.45 390.55,576.39 390.80,576.32 391.05,576.26 391.30,576.19 391.55,576.13 391.80,576.06 392.05,576.00 392.30,575.93 392.55,575.86 392.80,575.80 393.05,575.73 393.30,575.67 393.55,575.60 393.80,575.54 394.05,575.48 394.30,575.41 394.55,575.35 394.80,575.29 395.05,575.23 395.30,575.17 395.55,575.11 395.80,575.05 396.05,575.00 396.30,574.94 396.55,574.89 396.80,574.84 397.05,574.78 397.30,574.73 397.55,574.68 397.80,574.62 398.05,574.57 398.30,574.52 398.55,574.47 398.80,574.42 399.05,574.37 399.30,574.32 399.55,574.27 399.80,574.22 400.05,574.17 400.30,574.13 400.55,574.10 400.80,574.07 401.05,574.05 401.30,574.04 401.55,574.04 401.80,574.04 402.05,574.05 402.30,574.06 402.55,574.07 402.80,574.09 403.05,574.10 403.30,574.13 403.55,574.15 403.80,574.18 404.05,574.20 404.30,574.22 404.55,574.25 404.80,574.26 405.05,574.28 405.30,574.28 405.55,574.28 405.80,574.27 406.05,574.25 406.30,574.21 406.55,574.16 406.80,574.08 407.05,573.99 407.30,573.88 407.55,573.74 407.80,573.56 408.05,573.35 408.30,573.11 408.55,572.86 408.80,572.59 409.05,572.31 409.30,572.03 409.55,571.76 409.80,571.49 410.05,571.24 410.30,570.99 410.55,570.75 410.80,570.50 411.05,570.23 411.30,569.95 411.55,569.65 411.80,569.34 412.05,569.01 412.30,568.68 412.55,568.34 412.80,567.99 413.05,567.64 413.30,567.28 413.55,566.92 413.80,566.56 414.05,566.19 414.30,565.83 414.55,565.45 414.80,565.07 415.05,564.67 415.30,564.26 415.55,563.83 415.80,563.37 416.05,562.90 416.30,562.40 416.55,561.87 416.80,561.32 417.05,560.74 417.30,560.12 417.55,559.48 417.80,558.80 418.05,558.07 418.30,557.31 418.55,556.51 418.80,555.64 419.05,554.60 419.30,553.41 419.55,552.15 419.80,550.88 420.05,549.67 420.30,548.60 420.55,547.68 420.80,546.86 421.05,546.09 421.30,545.33 421.55,544.52 421.80,543.62 422.05,542.58 422.30,541.36 422.55,539.97 422.80,538.45 423.05,536.83 423.30,535.06 423.55,533.02 423.80,530.86 424.05,528.71 424.30,526.72 424.55,524.99 424.80,523.39 425.05,521.89 425.30,520.43 425.55,518.98 425.80,517.52 426.05,516.11 426.30,514.74 426.55,513.36 426.80,511.91 427.05,510.33 427.30,508.63 427.55,506.84 427.80,504.87 428.05,502.67 428.30,500.10 428.55,496.79 428.80,493.09 429.05,489.47 429.30,486.27 429.55,483.27 429.80,480.24 430.05,476.92 430.30,472.98 430.55,468.45 430.80,463.91 431.05,459.98 431.30,456.67 431.55,453.68 431.80,450.80 432.05,447.84 432.30,444.60 432.55,440.89 432.80,436.87 433.05,432.95 433.30,429.54 433.55,426.44 433.80,423.46 434.05,420.85 434.30,418.89 434.55,417.63 434.80,416.46 435.05,415.44 435.30,414.72 435.55,414.47 435.80,414.54 436.05,414.77 436.30,415.11 436.55,415.51 436.80,415.94 437.05,416.63 437.30,417.68 437.55,419.09 437.80,420.88 438.05,423.08 438.30,426.10 438.55,429.81 438.80,433.81 439.05,437.86 439.30,442.27 439.55,446.82 439.80,451.20 440.05,455.37 440.30,459.47 440.55,463.46 440.80,467.30 441.05,470.97 441.30,474.49 441.55,477.95 441.80,481.40 442.05,484.91 442.30,488.45 442.55,491.98 442.80,495.46 443.05,498.88 443.30,502.25 443.55,505.58 443.80,508.81 444.05,511.90 444.30,514.79 444.55,517.57 444.80,520.36 445.05,523.31 445.30,526.63 445.55,529.98 445.80,532.90 446.05,535.21 446.30,537.21 446.55,539.08 446.80,541.04 447.05,543.29 447.30,546.11 447.55,549.01 447.80,551.25 448.05,552.70 448.30,553.82 448.55,554.78 448.80,555.72 449.05,556.81 449.30,558.19 449.55,559.79 449.80,561.37 450.05,562.72 450.30,563.87 450.55,564.93 450.80,565.93 451.05,566.90 451.30,567.86 451.55,568.81 451.80,569.76 452.05,570.68 452.30,571.56 452.55,572.40 452.80,573.22 453.05,574.02 453.30,574.78 453.55,575.50 453.80,576.15 454.05,576.73 454.30,577.23 454.55,577.72 454.80,578.19 455.05,578.64 455.30,579.07 455.55,579.47 455.80,579.86 456.05,580.23 456.30,580.57 456.55,580.90 456.80,581.21 457.05,581.50 457.30,581.77 457.55,582.02 457.80,582.26 458.05,582.50 458.30,582.74 458.55,582.97 458.80,583.21 459.05,583.44 459.30,583.66 459.55,583.89 459.80,584.11 460.05,584.32 460.30,584.53 460.55,584.73 460.80,584.93 461.05,585.12 461.30,585.30 461.55,585.47 461.80,585.63 462.05,585.78 462.30,585.92 462.55,586.06 462.80,586.19 463.05,586.32 463.30,586.44 463.55,586.56 463.80,586.67 464.05,586.78 464.30,586.89 464.55,586.98 464.80,587.08 465.05,587.16 465.30,587.25 465.55,587.33 465.80,587.41 466.05,587.49 466.30,587.56 466.55,587.64 466.80,587.71 467.05,587.78 467.30,587.85 467.55,587.92 467.80,587.99 468.05,588.05 468.30,588.12 468.55,588.18 468.80,588.25 469.05,588.31 469.30,588.37 469.55,588.43 469.80,588.49 470.05,588.55 470.30,588.61 470.55,588.66 470.80,588.72 471.05,588.78 471.30,588.83 471.55,588.88 471.80,588.94 472.05,588.99 472.30,589.04 472.55,589.09 472.80,589.13 473.05,589.18 473.30,589.23 473.55,589.27 473.80,589.31 474.05,589.35 474.30,589.39 474.55,589.43 474.80,589.47 475.05,589.50 475.30,589.54 475.55,589.57 475.80,589.61 476.05,589.64 476.30,589.67 476.55,589.71 476.80,589.74 477.05,589.77 477.30,589.80 477.55,589.83 477.80,589.86 478.05,589.89 478.30,589.92 478.55,589.95 478.80,589.98 479.05,590.01 479.30,590.04 479.55,590.07 479.80,590.10 480.05,590.13 480.30,590.15 480.55,590.18 480.80,590.21 481.05,590.23 481.30,590.26 481.55,590.28 481.80,590.31 482.05,590.33 482.30,590.36 482.55,590.38 482.80,590.41 483.05,590.43 483.30,590.46 483.55,590.48 483.80,590.51 484.05,590.53 484.30,590.55 484.55,590.58 484.80,590.60 485.05,590.62 485.30,590.65 485.55,590.67 485.80,590.69 486.05,590.72 486.30,590.74 486.55,590.76 486.80,590.78 487.05,590.81 487.30,590.83 487.55,590.85 487.80,590.87 488.05,590.89 488.30,590.91 488.55,590.94 488.80,590.96 489.05,590.98 489.30,591.00 489.55,591.02 489.80,591.04 490.05,591.06 490.30,591.08 490.55,591.10 490.80,591.12 491.05,591.14 491.30,591.16 491.55,591.17 491.80,591.19 492.05,591.21 492.30,591.23 492.55,591.25 492.80,591.26 493.05,591.28 493.30,591.30 493.55,591.32 493.80,591.33 494.05,591.35 494.30,591.37 494.55,591.38 494.80,591.40 495.05,591.41 495.30,591.43 495.55,591.44 495.80,591.46 496.05,591.47 496.30,591.49 496.55,591.50 496.80,591.51 497.05,591.53 497.30,591.54 497.55,591.55 497.80,591.56 498.05,591.58 498.30,591.59 498.55,591.60 498.80,591.61 499.05,591.62 499.30,591.63 499.55,591.64 499.80,591.65 500.05,591.66 500.30,591.67 500.55,591.68 500.80,591.69 501.05,591.70" fill="none" stroke="#b41e1e" stroke-width="1.0" stroke-linejoin="round" /><path d="M337.2,461 L338.1,459 L339,461" fill="none" stroke="#2424a4" stroke-width="1"/><path d="M434.5,416.5 L435.4,414.5 L436.3,416.5" fill="none" stroke="#2424a4" stroke-width="1"/><line x1="281.1" y1="389.0" x2="501.8" y2="389.0" stroke="#a0a0a0" stroke-width="1.4"/><line x1="501.1" y1="388.3" x2="501.1" y2="601.9000000000001" stroke="#909090" stroke-width="1.4"/><line x1="281.8" y1="388.3" x2="281.8" y2="601.9000000000001" stroke="#a5a5a5" stroke-width="1.4"/><line x1="281.1" y1="601.2" x2="501.8" y2="601.2" stroke="#404040" stroke-width="1.4"/><line x1="281.80" y1="601.2" x2="281.80" y2="604.9000000000001" stroke="#505050" stroke-width="0.9"/><line x1="281.80" y1="389.0" x2="281.80" y2="392.7" stroke="#505050" stroke-width="0.9"/><line x1="302.69" y1="601.2" x2="302.69" y2="604.9000000000001" stroke="#505050" stroke-width="0.9"/><line x1="302.69" y1="389.0" x2="302.69" y2="392.7" stroke="#505050" stroke-width="0.9"/><line x1="323.57" y1="601.2" x2="323.57" y2="604.9000000000001" stroke="#505050" stroke-width="0.9"/><line x1="323.57" y1="389.0" x2="323.57" y2="392.7" stroke="#505050" stroke-width="0.9"/><line x1="344.46" y1="601.2" x2="344.46" y2="604.9000000000001" stroke="#505050" stroke-width="0.9"/><line x1="344.46" y1="389.0" x2="344.46" y2="392.7" stroke="#505050" stroke-width="0.9"/><line x1="365.34" y1="601.2" x2="365.34" y2="604.9000000000001" stroke="#505050" stroke-width="0.9"/><line x1="365.34" y1="389.0" x2="365.34" y2="392.7" stroke="#505050" stroke-width="0.9"/><line x1="386.23" y1="601.2" x2="386.23" y2="604.9000000000001" stroke="#505050" stroke-width="0.9"/><line x1="386.23" y1="389.0" x2="386.23" y2="392.7" stroke="#505050" stroke-width="0.9"/><line x1="407.12" y1="601.2" x2="407.12" y2="604.9000000000001" stroke="#505050" stroke-width="0.9"/><line x1="407.12" y1="389.0" x2="407.12" y2="392.7" stroke="#505050" stroke-width="0.9"/><line x1="428.00" y1="601.2" x2="428.00" y2="604.9000000000001" stroke="#505050" stroke-width="0.9"/><line x1="428.00" y1="389.0" x2="428.00" y2="392.7" stroke="#505050" stroke-width="0.9"/><line x1="448.89" y1="601.2" x2="448.89" y2="604.9000000000001" stroke="#505050" stroke-width="0.9"/><line x1="448.89" y1="389.0" x2="448.89" y2="392.7" stroke="#505050" stroke-width="0.9"/><line x1="469.77" y1="601.2" x2="469.77" y2="604.9000000000001" stroke="#505050" stroke-width="0.9"/><line x1="469.77" y1="389.0" x2="469.77" y2="392.7" stroke="#505050" stroke-width="0.9"/><line x1="490.66" y1="601.2" x2="490.66" y2="604.9000000000001" stroke="#505050" stroke-width="0.9"/><line x1="490.66" y1="389.0" x2="490.66" y2="392.7" stroke="#505050" stroke-width="0.9"/><line x1="292.24" y1="601.2" x2="292.24" y2="603.2" stroke="#505050" stroke-width="0.9"/><line x1="292.24" y1="389.0" x2="292.24" y2="391.0" stroke="#505050" stroke-width="0.9"/><line x1="313.13" y1="601.2" x2="313.13" y2="603.2" stroke="#505050" stroke-width="0.9"/><line x1="313.13" y1="389.0" x2="313.13" y2="391.0" stroke="#505050" stroke-width="0.9"/><line x1="334.01" y1="601.2" x2="334.01" y2="603.2" stroke="#505050" stroke-width="0.9"/><line x1="334.01" y1="389.0" x2="334.01" y2="391.0" stroke="#505050" stroke-width="0.9"/><line x1="354.90" y1="601.2" x2="354.90" y2="603.2" stroke="#505050" stroke-width="0.9"/><line x1="354.90" y1="389.0" x2="354.90" y2="391.0" stroke="#505050" stroke-width="0.9"/><line x1="375.79" y1="601.2" x2="375.79" y2="603.2" stroke="#505050" stroke-width="0.9"/><line x1="375.79" y1="389.0" x2="375.79" y2="391.0" stroke="#505050" stroke-width="0.9"/><line x1="396.67" y1="601.2" x2="396.67" y2="603.2" stroke="#505050" stroke-width="0.9"/><line x1="396.67" y1="389.0" x2="396.67" y2="391.0" stroke="#505050" stroke-width="0.9"/><line x1="417.56" y1="601.2" x2="417.56" y2="603.2" stroke="#505050" stroke-width="0.9"/><line x1="417.56" y1="389.0" x2="417.56" y2="391.0" stroke="#505050" stroke-width="0.9"/><line x1="438.44" y1="601.2" x2="438.44" y2="603.2" stroke="#505050" stroke-width="0.9"/><line x1="438.44" y1="389.0" x2="438.44" y2="391.0" stroke="#505050" stroke-width="0.9"/><line x1="459.33" y1="601.2" x2="459.33" y2="603.2" stroke="#505050" stroke-width="0.9"/><line x1="459.33" y1="389.0" x2="459.33" y2="391.0" stroke="#505050" stroke-width="0.9"/><line x1="480.22" y1="601.2" x2="480.22" y2="603.2" stroke="#505050" stroke-width="0.9"/><line x1="480.22" y1="389.0" x2="480.22" y2="391.0" stroke="#505050" stroke-width="0.9"/><line x1="501.10" y1="601.2" x2="501.10" y2="603.2" stroke="#505050" stroke-width="0.9"/><line x1="501.10" y1="389.0" x2="501.10" y2="391.0" stroke="#505050" stroke-width="0.9"/><line x1="278.8" y1="395.50" x2="281.8" y2="395.50" stroke="#505050" stroke-width="0.9"/><line x1="498.1" y1="395.50" x2="501.1" y2="395.50" stroke="#505050" stroke-width="0.9"/><line x1="278.8" y1="421.20" x2="281.8" y2="421.20" stroke="#505050" stroke-width="0.9"/><line x1="498.1" y1="421.20" x2="501.1" y2="421.20" stroke="#505050" stroke-width="0.9"/><line x1="278.8" y1="446.90" x2="281.8" y2="446.90" stroke="#505050" stroke-width="0.9"/><line x1="498.1" y1="446.90" x2="501.1" y2="446.90" stroke="#505050" stroke-width="0.9"/><line x1="278.8" y1="472.60" x2="281.8" y2="472.60" stroke="#505050" stroke-width="0.9"/><line x1="498.1" y1="472.60" x2="501.1" y2="472.60" stroke="#505050" stroke-width="0.9"/><line x1="278.8" y1="498.30" x2="281.8" y2="498.30" stroke="#505050" stroke-width="0.9"/><line x1="498.1" y1="498.30" x2="501.1" y2="498.30" stroke="#505050" stroke-width="0.9"/><line x1="278.8" y1="524.00" x2="281.8" y2="524.00" stroke="#505050" stroke-width="0.9"/><line x1="498.1" y1="524.00" x2="501.1" y2="524.00" stroke="#505050" stroke-width="0.9"/><line x1="278.8" y1="549.70" x2="281.8" y2="549.70" stroke="#505050" stroke-width="0.9"/><line x1="498.1" y1="549.70" x2="501.1" y2="549.70" stroke="#505050" stroke-width="0.9"/><line x1="278.8" y1="575.40" x2="281.8" y2="575.40" stroke="#505050" stroke-width="0.9"/><line x1="498.1" y1="575.40" x2="501.1" y2="575.40" stroke="#505050" stroke-width="0.9"/><line x1="278.8" y1="601.10" x2="281.8" y2="601.10" stroke="#505050" stroke-width="0.9"/><line x1="498.1" y1="601.10" x2="501.1" y2="601.10" stroke="#505050" stroke-width="0.9"/><line x1="280.0" y1="408.35" x2="281.8" y2="408.35" stroke="#505050" stroke-width="0.9"/><line x1="499.3" y1="408.35" x2="501.1" y2="408.35" stroke="#505050" stroke-width="0.9"/><line x1="280.0" y1="434.05" x2="281.8" y2="434.05" stroke="#505050" stroke-width="0.9"/><line x1="499.3" y1="434.05" x2="501.1" y2="434.05" stroke="#505050" stroke-width="0.9"/><line x1="280.0" y1="459.75" x2="281.8" y2="459.75" stroke="#505050" stroke-width="0.9"/><line x1="499.3" y1="459.75" x2="501.1" y2="459.75" stroke="#505050" stroke-width="0.9"/><line x1="280.0" y1="485.45" x2="281.8" y2="485.45" stroke="#505050" stroke-width="0.9"/><line x1="499.3" y1="485.45" x2="501.1" y2="485.45" stroke="#505050" stroke-width="0.9"/><line x1="280.0" y1="511.15" x2="281.8" y2="511.15" stroke="#505050" stroke-width="0.9"/><line x1="499.3" y1="511.15" x2="501.1" y2="511.15" stroke="#505050" stroke-width="0.9"/><line x1="280.0" y1="536.85" x2="281.8" y2="536.85" stroke="#505050" stroke-width="0.9"/><line x1="499.3" y1="536.85" x2="501.1" y2="536.85" stroke="#505050" stroke-width="0.9"/><line x1="280.0" y1="562.55" x2="281.8" y2="562.55" stroke="#505050" stroke-width="0.9"/><line x1="499.3" y1="562.55" x2="501.1" y2="562.55" stroke="#505050" stroke-width="0.9"/><line x1="280.0" y1="588.25" x2="281.8" y2="588.25" stroke="#505050" stroke-width="0.9"/><line x1="499.3" y1="588.25" x2="501.1" y2="588.25" stroke="#505050" stroke-width="0.9"/><text transform="translate(275.34,613.10) scale(0.9055,1)" font-size="8.43" font-weight="bold" fill="#000" >544</text><text transform="translate(296.22,613.10) scale(0.9388,1)" font-size="8.31" font-weight="bold" fill="#000" >542</text><text transform="translate(317.11,613.10) scale(0.9394,1)" font-size="8.31" font-weight="bold" fill="#000" >540</text><text transform="translate(337.99,613.10) scale(0.9335,1)" font-size="8.31" font-weight="bold" fill="#000" >538</text><text transform="translate(358.88,613.10) scale(0.9364,1)" font-size="8.31" font-weight="bold" fill="#000" >536</text><text transform="translate(379.77,613.10) scale(0.9186,1)" font-size="8.31" font-weight="bold" fill="#000" >534</text><text transform="translate(400.65,613.10) scale(0.9388,1)" font-size="8.31" font-weight="bold" fill="#000" >532</text><text transform="translate(421.54,613.10) scale(0.9394,1)" font-size="8.31" font-weight="bold" fill="#000" >530</text><text transform="translate(442.42,613.10) scale(0.9335,1)" font-size="8.31" font-weight="bold" fill="#000" >528</text><text transform="translate(463.31,613.10) scale(0.9364,1)" font-size="8.31" font-weight="bold" fill="#000" >526</text><text transform="translate(484.20,613.10) scale(0.9186,1)" font-size="8.31" font-weight="bold" fill="#000" >524</text><text transform="translate(344.84,629.70) scale(1.0227,1)" font-size="9.66" font-weight="bold" fill="#000" >Binding energy (eV)</text><text transform="translate(268.50,552.61) rotate(-90) scale(1.0544,1)" font-size="10.07" font-weight="bold" fill="#000">Intensity (arb. units)</text><text transform="translate(286.49,400.60) scale(1.0508,1)" font-size="7.73" font-weight="bold" fill="#000" >(c)</text><text transform="translate(285.88,414.20) scale(0.9632,1)" font-size="8.00" font-weight="bold" fill="#000" >Sb3d</text><text transform="translate(328.26,447.10) scale(0.9832,1)" font-size="8.02" font-weight="bold" fill="#000" >538.6</text><text transform="translate(425.96,402.90) scale(0.9458,1)" font-size="8.17" font-weight="bold" fill="#000" >529.3</text>
<g fill="none" stroke="#1e1e1e" stroke-width="0.85"><circle cx="535.40" cy="587.40" r="1.5"/><circle cx="537.25" cy="586.89" r="1.5"/><circle cx="539.09" cy="587.98" r="1.5"/><circle cx="540.94" cy="588.66" r="1.5"/><circle cx="542.79" cy="589.38" r="1.5"/><circle cx="544.64" cy="588.37" r="1.5"/><circle cx="546.48" cy="587.71" r="1.5"/><circle cx="548.33" cy="587.49" r="1.5"/><circle cx="550.18" cy="589.03" r="1.5"/><circle cx="552.03" cy="589.92" r="1.5"/><circle cx="553.87" cy="588.57" r="1.5"/><circle cx="555.72" cy="587.06" r="1.5"/><circle cx="557.57" cy="587.34" r="1.5"/><circle cx="559.42" cy="589.90" r="1.5"/><circle cx="561.26" cy="588.50" r="1.5"/><circle cx="563.11" cy="586.57" r="1.5"/><circle cx="564.96" cy="588.21" r="1.5"/><circle cx="566.81" cy="587.13" r="1.5"/><circle cx="568.65" cy="587.66" r="1.5"/><circle cx="570.50" cy="587.79" r="1.5"/><circle cx="572.35" cy="587.56" r="1.5"/><circle cx="574.20" cy="588.82" r="1.5"/><circle cx="576.04" cy="588.20" r="1.5"/><circle cx="577.89" cy="587.67" r="1.5"/><circle cx="579.74" cy="588.66" r="1.5"/><circle cx="581.59" cy="589.07" r="1.5"/><circle cx="583.43" cy="586.59" r="1.5"/><circle cx="585.28" cy="587.97" r="1.5"/><circle cx="587.13" cy="587.24" r="1.5"/><circle cx="588.98" cy="588.05" r="1.5"/><circle cx="590.82" cy="586.92" r="1.5"/><circle cx="592.67" cy="588.23" r="1.5"/><circle cx="594.52" cy="588.17" r="1.5"/><circle cx="596.37" cy="587.90" r="1.5"/><circle cx="598.21" cy="587.15" r="1.5"/><circle cx="600.06" cy="587.80" r="1.5"/><circle cx="601.91" cy="587.11" r="1.5"/><circle cx="603.76" cy="586.84" r="1.5"/><circle cx="605.60" cy="588.42" r="1.5"/><circle cx="607.45" cy="587.09" r="1.5"/><circle cx="609.30" cy="589.37" r="1.5"/><circle cx="611.15" cy="588.92" r="1.5"/><circle cx="612.99" cy="586.20" r="1.5"/><circle cx="614.84" cy="588.47" r="1.5"/><circle cx="616.69" cy="587.10" r="1.5"/><circle cx="618.54" cy="588.23" r="1.5"/><circle cx="620.38" cy="588.24" r="1.5"/><circle cx="622.23" cy="586.21" r="1.5"/><circle cx="624.08" cy="587.97" r="1.5"/><circle cx="625.93" cy="587.94" r="1.5"/><circle cx="627.77" cy="589.16" r="1.5"/><circle cx="629.62" cy="587.02" r="1.5"/><circle cx="631.47" cy="588.94" r="1.5"/><circle cx="633.32" cy="587.10" r="1.5"/><circle cx="635.16" cy="587.87" r="1.5"/><circle cx="637.01" cy="587.36" r="1.5"/><circle cx="638.86" cy="589.65" r="1.5"/><circle cx="640.71" cy="588.76" r="1.5"/><circle cx="642.55" cy="590.52" r="1.5"/><circle cx="644.40" cy="588.53" r="1.5"/><circle cx="646.25" cy="588.16" r="1.5"/><circle cx="648.10" cy="586.76" r="1.5"/><circle cx="649.94" cy="583.12" r="1.5"/><circle cx="651.79" cy="580.32" r="1.5"/><circle cx="653.64" cy="576.56" r="1.5"/><circle cx="655.49" cy="567.06" r="1.5"/><circle cx="657.33" cy="557.12" r="1.5"/><circle cx="659.18" cy="543.91" r="1.5"/><circle cx="661.03" cy="531.01" r="1.5"/><circle cx="662.88" cy="517.36" r="1.5"/><circle cx="664.72" cy="503.88" r="1.5"/><circle cx="666.57" cy="499.74" r="1.5"/><circle cx="668.42" cy="501.94" r="1.5"/><circle cx="670.27" cy="506.32" r="1.5"/><circle cx="672.11" cy="515.09" r="1.5"/><circle cx="673.96" cy="519.48" r="1.5"/><circle cx="675.81" cy="521.75" r="1.5"/><circle cx="677.66" cy="519.71" r="1.5"/><circle cx="679.50" cy="509.42" r="1.5"/><circle cx="681.35" cy="489.50" r="1.5"/><circle cx="683.20" cy="468.62" r="1.5"/><circle cx="685.05" cy="444.27" r="1.5"/><circle cx="686.89" cy="423.68" r="1.5"/><circle cx="688.74" cy="412.21" r="1.5"/><circle cx="690.59" cy="416.70" r="1.5"/><circle cx="692.44" cy="432.81" r="1.5"/><circle cx="694.28" cy="452.11" r="1.5"/><circle cx="696.13" cy="476.77" r="1.5"/><circle cx="697.98" cy="502.72" r="1.5"/><circle cx="699.83" cy="527.42" r="1.5"/><circle cx="701.67" cy="548.77" r="1.5"/><circle cx="703.52" cy="564.99" r="1.5"/><circle cx="705.37" cy="573.81" r="1.5"/><circle cx="707.22" cy="580.29" r="1.5"/><circle cx="709.06" cy="583.73" r="1.5"/><circle cx="710.91" cy="587.96" r="1.5"/><circle cx="712.76" cy="589.69" r="1.5"/><circle cx="714.61" cy="591.36" r="1.5"/><circle cx="716.45" cy="591.37" r="1.5"/><circle cx="718.30" cy="591.92" r="1.5"/><circle cx="720.15" cy="592.12" r="1.5"/><circle cx="722.00" cy="592.70" r="1.5"/><circle cx="723.84" cy="593.70" r="1.5"/><circle cx="725.69" cy="593.45" r="1.5"/><circle cx="727.54" cy="594.17" r="1.5"/><circle cx="729.39" cy="596.15" r="1.5"/><circle cx="731.23" cy="594.87" r="1.5"/><circle cx="733.08" cy="592.95" r="1.5"/><circle cx="734.93" cy="596.37" r="1.5"/><circle cx="736.78" cy="595.08" r="1.5"/><circle cx="738.62" cy="593.84" r="1.5"/><circle cx="740.47" cy="595.71" r="1.5"/><circle cx="742.32" cy="594.82" r="1.5"/><circle cx="744.17" cy="594.18" r="1.5"/><circle cx="746.01" cy="594.17" r="1.5"/><circle cx="747.86" cy="593.81" r="1.5"/><circle cx="749.71" cy="594.85" r="1.5"/><circle cx="751.56" cy="595.87" r="1.5"/><circle cx="753.40" cy="594.47" r="1.5"/><circle cx="755.25" cy="595.22" r="1.5"/></g><polyline points="534.80,588.30 535.05,588.30 535.30,588.30 535.55,588.30 535.80,588.30 536.05,588.30 536.30,588.30 536.55,588.30 536.80,588.30 537.05,588.30 537.30,588.30 537.55,588.30 537.80,588.30 538.05,588.30 538.30,588.30 538.55,588.30 538.80,588.30 539.05,588.30 539.30,588.30 539.55,588.30 539.80,588.30 540.05,588.30 540.30,588.30 540.55,588.30 540.80,588.30 541.05,588.30 541.30,588.30 541.55,588.30 541.80,588.30 542.05,588.30 542.30,588.30 542.55,588.30 542.80,588.30 543.05,588.30 543.30,588.30 543.55,588.30 543.80,588.30 544.05,588.30 544.30,588.30 544.55,588.30 544.80,588.30 545.05,588.30 545.30,588.30 545.55,588.30 545.80,588.30 546.05,588.30 546.30,588.30 546.55,588.30 546.80,588.30 547.05,588.30 547.30,588.30 547.55,588.30 547.80,588.30 548.05,588.30 548.30,588.30 548.55,588.30 548.80,588.30 549.05,588.30 549.30,588.30 549.55,588.30 549.80,588.30 550.05,588.30 550.30,588.30 550.55,588.30 550.80,588.30 551.05,588.30 551.30,588.30 551.55,588.30 551.80,588.30 552.05,588.30 552.30,588.30 552.55,588.30 552.80,588.30 553.05,588.30 553.30,588.30 553.55,588.30 553.80,588.30 554.05,588.30 554.30,588.30 554.55,588.30 554.80,588.30 555.05,588.30 555.30,588.30 555.55,588.30 555.80,588.30 556.05,588.30 556.30,588.30 556.55,588.30 556.80,588.30 557.05,588.30 557.30,588.30 557.55,588.30 557.80,588.30 558.05,588.30 558.30,588.30 558.55,588.30 558.80,588.30 559.05,588.30 559.30,588.30 559.55,588.30 559.80,588.30 560.05,588.30 560.30,588.30 560.55,588.30 560.80,588.30 561.05,588.30 561.30,588.30 561.55,588.30 561.80,588.30 562.05,588.30 562.30,588.30 562.55,588.30 562.80,588.30 563.05,588.30 563.30,588.30 563.55,588.30 563.80,588.30 564.05,588.30 564.30,588.30 564.55,588.30 564.80,588.30 565.05,588.30 565.30,588.30 565.55,588.30 565.80,588.30 566.05,588.30 566.30,588.30 566.55,588.30 566.80,588.30 567.05,588.30 567.30,588.30 567.55,588.30 567.80,588.30 568.05,588.30 568.30,588.30 568.55,588.30 568.80,588.30 569.05,588.30 569.30,588.30 569.55,588.30 569.80,588.30 570.05,588.30 570.30,588.30 570.55,588.30 570.80,588.30 571.05,588.30 571.30,588.30 571.55,588.30 571.80,588.30 572.05,588.30 572.30,588.30 572.55,588.30 572.80,588.30 573.05,588.30 573.30,588.30 573.55,588.30 573.80,588.30 574.05,588.30 574.30,588.30 574.55,588.30 574.80,588.30 575.05,588.30 575.30,588.30 575.55,588.30 575.80,588.30 576.05,588.30 576.30,588.30 576.55,588.30 576.80,588.30 577.05,588.30 577.30,588.30 577.55,588.30 577.80,588.30 578.05,588.30 578.30,588.30 578.55,588.30 578.80,588.30 579.05,588.30 579.30,588.30 579.55,588.30 579.80,588.30 580.05,588.30 580.30,588.30 580.55,588.30 580.80,588.30 581.05,588.30 581.30,588.30 581.55,588.30 581.80,588.30 582.05,588.30 582.30,588.30 582.55,588.30 582.80,588.30 583.05,588.30 583.30,588.30 583.55,588.30 583.80,588.30 584.05,588.30 584.30,588.30 584.55,588.30 584.80,588.30 585.05,588.30 585.30,588.30 585.55,588.30 585.80,588.30 586.05,588.30 586.30,588.30 586.55,588.30 586.80,588.30 587.05,588.30 587.30,588.30 587.55,588.30 587.80,588.30 588.05,588.30 588.30,588.30 588.55,588.30 588.80,588.30 589.05,588.30 589.30,588.30 589.55,588.30 589.80,588.30 590.05,588.30 590.30,588.30 590.55,588.30 590.80,588.30 591.05,588.30 591.30,588.30 591.55,588.30 591.80,588.30 592.05,588.30 592.30,588.30 592.55,588.30 592.80,588.30 593.05,588.30 593.30,588.30 593.55,588.30 593.80,588.30 594.05,588.30 594.30,588.30 594.55,588.30 594.80,588.30 595.05,588.30 595.30,588.30 595.55,588.30 595.80,588.30 596.05,588.30 596.30,588.30 596.55,588.30 596.80,588.30 597.05,588.30 597.30,588.30 597.55,588.30 597.80,588.30 598.05,588.30 598.30,588.30 598.55,588.30 598.80,588.30 599.05,588.30 599.30,588.30 599.55,588.30 599.80,588.30 600.05,588.30 600.30,588.30 600.55,588.30 600.80,588.30 601.05,588.30 601.30,588.30 601.55,588.30 601.80,588.30 602.05,588.30 602.30,588.30 602.55,588.30 602.80,588.30 603.05,588.30 603.30,588.30 603.55,588.30 603.80,588.30 604.05,588.30 604.30,588.30 604.55,588.30 604.80,588.30 605.05,588.30 605.30,588.30 605.55,588.30 605.80,588.30 606.05,588.30 606.30,588.30 606.55,588.30 606.80,588.30 607.05,588.30 607.30,588.30 607.55,588.30 607.80,588.30 608.05,588.30 608.30,588.30 608.55,588.30 608.80,588.30 609.05,588.30 609.30,588.30 609.55,588.30 609.80,588.30 610.05,588.30 610.30,588.30 610.55,588.30 610.80,588.30 611.05,588.30 611.30,588.30 611.55,588.30 611.80,588.30 612.05,588.30 612.30,588.30 612.55,588.30 612.80,588.30 613.05,588.30 613.30,588.30 613.55,588.30 613.80,588.30 614.05,588.30 614.30,588.30 614.55,588.30 614.80,588.30 615.05,588.30 615.30,588.30 615.55,588.30 615.80,588.30 616.05,588.30 616.30,588.30 616.55,588.30 616.80,588.30 617.05,588.30 617.30,588.30 617.55,588.30 617.80,588.30 618.05,588.30 618.30,588.30 618.55,588.30 618.80,588.30 619.05,588.30 619.30,588.30 619.55,588.30 619.80,588.30 620.05,588.30 620.30,588.30 620.55,588.30 620.80,588.30 621.05,588.30 621.30,588.30 621.55,588.30 621.80,588.30 622.05,588.30 622.30,588.30 622.55,588.30 622.80,588.30 623.05,588.30 623.30,588.30 623.55,588.30 623.80,588.30 624.05,588.30 624.30,588.30 624.55,588.30 624.80,588.30 625.05,588.30 625.30,588.30 625.55,588.30 625.80,588.30 626.05,588.30 626.30,588.30 626.55,588.30 626.80,588.30 627.05,588.30 627.30,588.30 627.55,588.30 627.80,588.30 628.05,588.30 628.30,588.30 628.55,588.30 628.80,588.30 629.05,588.30 629.30,588.30 629.55,588.30 629.80,588.30 630.05,588.30 630.30,588.30 630.55,588.30 630.80,588.30 631.05,588.30 631.30,588.30 631.55,588.30 631.80,588.30 632.05,588.30 632.30,588.30 632.55,588.30 632.80,588.30 633.05,588.30 633.30,588.30 633.55,588.30 633.80,588.30 634.05,588.30 634.30,588.30 634.55,588.30 634.80,588.30 635.05,588.30 635.30,588.30 635.55,588.30 635.80,588.30 636.05,588.30 636.30,588.30 636.55,588.30 636.80,588.30 637.05,588.30 637.30,588.30 637.55,588.30 637.80,588.30 638.05,588.30 638.30,588.30 638.55,588.30 638.80,588.30 639.05,588.30 639.30,588.30 639.55,588.30 639.80,588.30 640.05,588.30 640.30,588.30 640.55,588.30 640.80,588.29 641.05,588.29 641.30,588.28 641.55,588.27 641.80,588.26 642.05,588.25 642.30,588.23 642.55,588.22 642.80,588.20 643.05,588.19 643.30,588.17 643.55,588.15 643.80,588.12 644.05,588.10 644.30,588.08 644.55,588.05 644.80,588.02 645.05,587.99 645.30,587.95 645.55,587.88 645.80,587.79 646.05,587.68 646.30,587.56 646.55,587.42 646.80,587.26 647.05,587.10 647.30,586.92 647.55,586.74 647.80,586.55 648.05,586.36 648.30,586.14 648.55,585.90 648.80,585.62 649.05,585.31 649.30,584.98 649.55,584.63 649.80,584.25 650.05,583.85 650.30,583.44 650.55,583.01 650.80,582.56 651.05,582.11 651.30,581.62 651.55,581.10 651.80,580.55 652.05,579.96 652.30,579.33 652.55,578.67 652.80,577.98 653.05,577.26 653.30,576.50 653.55,575.71 653.80,574.88 654.05,574.03 654.30,573.10 654.55,572.08 654.80,570.99 655.05,569.83 655.30,568.61 655.55,567.34 655.80,566.02 656.05,564.68 656.30,563.31 656.55,561.92 656.80,560.47 657.05,558.94 657.30,557.35 657.55,555.70 657.80,554.02 658.05,552.31 658.30,550.58 658.55,548.85 658.80,547.06 659.05,545.21 659.30,543.31 659.55,541.39 659.80,539.50 660.05,537.64 660.30,535.86 660.55,534.17 660.80,532.58 661.05,531.06 661.30,529.59 661.55,528.14 661.80,526.70 662.05,525.24 662.30,523.74 662.55,522.18 662.80,520.48 663.05,518.69 663.30,516.89 663.55,515.16 663.80,513.59 664.05,512.25 664.30,511.00 664.55,509.81 664.80,508.75 665.05,507.88 665.30,507.30 665.55,506.89 665.80,506.54 666.05,506.29 666.30,506.20 666.55,506.31 666.80,506.61 667.05,507.02 667.30,507.50 667.55,508.16 667.80,509.10 668.05,510.24 668.30,511.49 668.55,512.75 668.80,514.02 669.05,515.40 669.30,516.88 669.55,518.42 669.80,520.00 670.05,521.65 670.30,523.39 670.55,525.19 670.80,527.03 671.05,528.87 671.30,530.74 671.55,532.66 671.80,534.60 672.05,536.54 672.30,538.47 672.55,540.38 672.80,542.28 673.05,544.17 673.30,546.05 673.55,547.90 673.80,549.73 674.05,551.56 674.30,553.38 674.55,555.16 674.80,556.88 675.05,558.52 675.30,560.10 675.55,561.64 675.80,563.12 676.05,564.56 676.30,565.94 676.55,567.26 676.80,568.52 677.05,569.74 677.30,570.91 677.55,572.04 677.80,573.14 678.05,574.21 678.30,575.30 678.55,576.37 678.80,577.40 679.05,578.36 679.30,579.20 679.55,579.92 679.80,580.60 680.05,581.25 680.30,581.87 680.55,582.45 680.80,583.01 681.05,583.54 681.30,584.03 681.55,584.49 681.80,584.91 682.05,585.31 682.30,585.67 682.55,585.99 682.80,586.31 683.05,586.61 683.30,586.90 683.55,587.18 683.80,587.45 684.05,587.70 684.30,587.95 684.55,588.19 684.80,588.41 685.05,588.63 685.30,588.83 685.55,589.03 685.80,589.22 686.05,589.40 686.30,589.57 686.55,589.73 686.80,589.88 687.05,590.03 687.30,590.17 687.55,590.31 687.80,590.44 688.05,590.58 688.30,590.71 688.55,590.83 688.80,590.95 689.05,591.07 689.30,591.19 689.55,591.30 689.80,591.41 690.05,591.52 690.30,591.62 690.55,591.72 690.80,591.82 691.05,591.91 691.30,592.00 691.55,592.09 691.80,592.17 692.05,592.24 692.30,592.32 692.55,592.39 692.80,592.46 693.05,592.52 693.30,592.58 693.55,592.63 693.80,592.69 694.05,592.74 694.30,592.79 694.55,592.84 694.80,592.89 695.05,592.93 695.30,592.98 695.55,593.02 695.80,593.07 696.05,593.11 696.30,593.15 696.55,593.19 696.80,593.22 697.05,593.26 697.30,593.29 697.55,593.33 697.80,593.36 698.05,593.39 698.30,593.42 698.55,593.45 698.80,593.48 699.05,593.51 699.30,593.53 699.55,593.56 699.80,593.58 700.05,593.60 700.30,593.63 700.55,593.65 700.80,593.67 701.05,593.69 701.30,593.71 701.55,593.74 701.80,593.76 702.05,593.78 702.30,593.80 702.55,593.82 702.80,593.84 703.05,593.86 703.30,593.88 703.55,593.90 703.80,593.92 704.05,593.94 704.30,593.95 704.55,593.97 704.80,593.99 705.05,594.01 705.30,594.02 705.55,594.04 705.80,594.06 706.05,594.07 706.30,594.09 706.55,594.10 706.80,594.12 707.05,594.13 707.30,594.15 707.55,594.16 707.80,594.17 708.05,594.18 708.30,594.20 708.55,594.21 708.80,594.22 709.05,594.23 709.30,594.24 709.55,594.25 709.80,594.25 710.05,594.26 710.30,594.27 710.55,594.28 710.80,594.28 711.05,594.29 711.30,594.29 711.55,594.30 711.80,594.30 712.05,594.30 712.30,594.31 712.55,594.31 712.80,594.32 713.05,594.32 713.30,594.32 713.55,594.33 713.80,594.33 714.05,594.33 714.30,594.34 714.55,594.34 714.80,594.34 715.05,594.35 715.30,594.35 715.55,594.35 715.80,594.36 716.05,594.36 716.30,594.36 716.55,594.36 716.80,594.37 717.05,594.37 717.30,594.37 717.55,594.38 717.80,594.38 718.05,594.38 718.30,594.39 718.55,594.39 718.80,594.39 719.05,594.39 719.30,594.40 719.55,594.40 719.80,594.40 720.05,594.41 720.30,594.41 720.55,594.41 720.80,594.41 721.05,594.42 721.30,594.42 721.55,594.42 721.80,594.43 722.05,594.43 722.30,594.43 722.55,594.43 722.80,594.44 723.05,594.44 723.30,594.44 723.55,594.44 723.80,594.45 724.05,594.45 724.30,594.45 724.55,594.45 724.80,594.46 725.05,594.46 725.30,594.46 725.55,594.46 725.80,594.46 726.05,594.47 726.30,594.47 726.55,594.47 726.80,594.47 727.05,594.48 727.30,594.48 727.55,594.48 727.80,594.48 728.05,594.48 728.30,594.49 728.55,594.49 728.80,594.49 729.05,594.49 729.30,594.49 729.55,594.50 729.80,594.50 730.05,594.50 730.30,594.50 730.55,594.50 730.80,594.51 731.05,594.51 731.30,594.51 731.55,594.51 731.80,594.51 732.05,594.52 732.30,594.52 732.55,594.52 732.80,594.52 733.05,594.52 733.30,594.52 733.55,594.53 733.80,594.53 734.05,594.53 734.30,594.53 734.55,594.53 734.80,594.53 735.05,594.54 735.30,594.54 735.55,594.54 735.80,594.54 736.05,594.54 736.30,594.54 736.55,594.54 736.80,594.55 737.05,594.55 737.30,594.55 737.55,594.55 737.80,594.55 738.05,594.55 738.30,594.55 738.55,594.56 738.80,594.56 739.05,594.56 739.30,594.56 739.55,594.56 739.80,594.56 740.05,594.56 740.30,594.56 740.55,594.56 740.80,594.57 741.05,594.57 741.30,594.57 741.55,594.57 741.80,594.57 742.05,594.57 742.30,594.57 742.55,594.57 742.80,594.57 743.05,594.58 743.30,594.58 743.55,594.58 743.80,594.58 744.05,594.58 744.30,594.58 744.55,594.58 744.80,594.58 745.05,594.58 745.30,594.58 745.55,594.58 745.80,594.58 746.05,594.59 746.30,594.59 746.55,594.59 746.80,594.59 747.05,594.59 747.30,594.59 747.55,594.59 747.80,594.59 748.05,594.59 748.30,594.59 748.55,594.59 748.80,594.59 749.05,594.59 749.30,594.59 749.55,594.59 749.80,594.59 750.05,594.59 750.30,594.59 750.55,594.60 750.80,594.60 751.05,594.60 751.30,594.60 751.55,594.60 751.80,594.60 752.05,594.60 752.30,594.60 752.55,594.60 752.80,594.60 753.05,594.60 753.30,594.60 753.55,594.60 753.80,594.60 754.05,594.60 754.30,594.60 754.55,594.60 754.80,594.60 755.05,594.60 755.30,594.60 755.55,594.60 755.80,594.60 756.05,594.60 756.30,594.60 756.55,594.60" fill="none" stroke="#2424a4" stroke-width="1.0" stroke-linejoin="round" /><polyline points="534.80,588.40 535.05,588.40 535.30,588.40 535.55,588.40 535.80,588.40 536.05,588.40 536.30,588.40 536.55,588.40 536.80,588.40 537.05,588.40 537.30,588.40 537.55,588.40 537.80,588.40 538.05,588.40 538.30,588.40 538.55,588.40 538.80,588.40 539.05,588.40 539.30,588.40 539.55,588.40 539.80,588.40 540.05,588.40 540.30,588.40 540.55,588.40 540.80,588.40 541.05,588.40 541.30,588.40 541.55,588.40 541.80,588.40 542.05,588.40 542.30,588.40 542.55,588.40 542.80,588.40 543.05,588.40 543.30,588.40 543.55,588.40 543.80,588.40 544.05,588.40 544.30,588.40 544.55,588.40 544.80,588.40 545.05,588.40 545.30,588.40 545.55,588.40 545.80,588.40 546.05,588.40 546.30,588.40 546.55,588.40 546.80,588.40 547.05,588.40 547.30,588.40 547.55,588.40 547.80,588.40 548.05,588.40 548.30,588.40 548.55,588.40 548.80,588.40 549.05,588.40 549.30,588.40 549.55,588.40 549.80,588.40 550.05,588.40 550.30,588.40 550.55,588.40 550.80,588.40 551.05,588.40 551.30,588.40 551.55,588.40 551.80,588.40 552.05,588.40 552.30,588.40 552.55,588.40 552.80,588.40 553.05,588.40 553.30,588.40 553.55,588.40 553.80,588.40 554.05,588.40 554.30,588.40 554.55,588.40 554.80,588.40 555.05,588.40 555.30,588.40 555.55,588.40 555.80,588.40 556.05,588.40 556.30,588.40 556.55,588.40 556.80,588.40 557.05,588.40 557.30,588.40 557.55,588.40 557.80,588.40 558.05,588.40 558.30,588.40 558.55,588.40 558.80,588.40 559.05,588.40 559.30,588.40 559.55,588.40 559.80,588.40 560.05,588.40 560.30,588.40 560.55,588.40 560.80,588.40 561.05,588.40 561.30,588.40 561.55,588.40 561.80,588.40 562.05,588.40 562.30,588.40 562.55,588.40 562.80,588.40 563.05,588.40 563.30,588.40 563.55,588.40 563.80,588.40 564.05,588.40 564.30,588.40 564.55,588.40 564.80,588.40 565.05,588.40 565.30,588.40 565.55,588.40 565.80,588.40 566.05,588.40 566.30,588.40 566.55,588.40 566.80,588.40 567.05,588.40 567.30,588.40 567.55,588.40 567.80,588.40 568.05,588.40 568.30,588.40 568.55,588.40 568.80,588.40 569.05,588.40 569.30,588.40 569.55,588.40 569.80,588.40 570.05,588.40 570.30,588.40 570.55,588.40 570.80,588.40 571.05,588.40 571.30,588.40 571.55,588.40 571.80,588.40 572.05,588.40 572.30,588.40 572.55,588.40 572.80,588.40 573.05,588.40 573.30,588.40 573.55,588.40 573.80,588.40 574.05,588.40 574.30,588.40 574.55,588.40 574.80,588.40 575.05,588.40 575.30,588.40 575.55,588.40 575.80,588.40 576.05,588.40 576.30,588.40 576.55,588.40 576.80,588.40 577.05,588.40 577.30,588.40 577.55,588.40 577.80,588.40 578.05,588.40 578.30,588.40 578.55,588.40 578.80,588.40 579.05,588.40 579.30,588.40 579.55,588.40 579.80,588.40 580.05,588.40 580.30,588.40 580.55,588.40 580.80,588.40 581.05,588.40 581.30,588.40 581.55,588.40 581.80,588.40 582.05,588.40 582.30,588.40 582.55,588.40 582.80,588.40 583.05,588.40 583.30,588.40 583.55,588.40 583.80,588.40 584.05,588.40 584.30,588.40 584.55,588.40 584.80,588.40 585.05,588.40 585.30,588.40 585.55,588.40 585.80,588.40 586.05,588.40 586.30,588.40 586.55,588.40 586.80,588.40 587.05,588.40 587.30,588.40 587.55,588.40 587.80,588.40 588.05,588.40 588.30,588.40 588.55,588.40 588.80,588.40 589.05,588.40 589.30,588.40 589.55,588.40 589.80,588.40 590.05,588.40 590.30,588.40 590.55,588.40 590.80,588.40 591.05,588.40 591.30,588.40 591.55,588.40 591.80,588.40 592.05,588.40 592.30,588.40 592.55,588.40 592.80,588.40 593.05,588.40 593.30,588.40 593.55,588.40 593.80,588.40 594.05,588.40 594.30,588.40 594.55,588.40 594.80,588.40 595.05,588.40 595.30,588.40 595.55,588.40 595.80,588.40 596.05,588.40 596.30,588.40 596.55,588.40 596.80,588.40 597.05,588.40 597.30,588.40 597.55,588.40 597.80,588.40 598.05,588.40 598.30,588.40 598.55,588.40 598.80,588.40 599.05,588.40 599.30,588.40 599.55,588.40 599.80,588.40 600.05,588.40 600.30,588.40 600.55,588.40 600.80,588.40 601.05,588.40 601.30,588.40 601.55,588.40 601.80,588.40 602.05,588.40 602.30,588.40 602.55,588.40 602.80,588.40 603.05,588.40 603.30,588.40 603.55,588.40 603.80,588.40 604.05,588.40 604.30,588.40 604.55,588.40 604.80,588.40 605.05,588.40 605.30,588.40 605.55,588.40 605.80,588.40 606.05,588.40 606.30,588.40 606.55,588.40 606.80,588.40 607.05,588.40 607.30,588.40 607.55,588.40 607.80,588.40 608.05,588.40 608.30,588.40 608.55,588.40 608.80,588.40 609.05,588.40 609.30,588.40 609.55,588.40 609.80,588.40 610.05,588.40 610.30,588.40 610.55,588.40 610.80,588.40 611.05,588.40 611.30,588.40 611.55,588.40 611.80,588.40 612.05,588.40 612.30,588.40 612.55,588.40 612.80,588.40 613.05,588.40 613.30,588.40 613.55,588.40 613.80,588.40 614.05,588.40 614.30,588.40 614.55,588.40 614.80,588.40 615.05,588.40 615.30,588.40 615.55,588.40 615.80,588.40 616.05,588.40 616.30,588.40 616.55,588.40 616.80,588.40 617.05,588.40 617.30,588.40 617.55,588.40 617.80,588.40 618.05,588.40 618.30,588.40 618.55,588.40 618.80,588.40 619.05,588.40 619.30,588.40 619.55,588.40 619.80,588.40 620.05,588.40 620.30,588.40 620.55,588.40 620.80,588.40 621.05,588.40 621.30,588.40 621.55,588.40 621.80,588.40 622.05,588.40 622.30,588.40 622.55,588.40 622.80,588.40 623.05,588.40 623.30,588.40 623.55,588.40 623.80,588.40 624.05,588.40 624.30,588.40 624.55,588.40 624.80,588.40 625.05,588.40 625.30,588.40 625.55,588.40 625.80,588.40 626.05,588.40 626.30,588.40 626.55,588.40 626.80,588.40 627.05,588.40 627.30,588.40 627.55,588.40 627.80,588.40 628.05,588.40 628.30,588.40 628.55,588.40 628.80,588.40 629.05,588.40 629.30,588.40 629.55,588.40 629.80,588.40 630.05,588.40 630.30,588.40 630.55,588.40 630.80,588.40 631.05,588.40 631.30,588.40 631.55,588.40 631.80,588.40 632.05,588.40 632.30,588.40 632.55,588.40 632.80,588.40 633.05,588.40 633.30,588.40 633.55,588.40 633.80,588.40 634.05,588.40 634.30,588.40 634.55,588.40 634.80,588.40 635.05,588.40 635.30,588.40 635.55,588.40 635.80,588.40 636.05,588.40 636.30,588.40 636.55,588.40 636.80,588.40 637.05,588.40 637.30,588.40 637.55,588.40 637.80,588.40 638.05,588.40 638.30,588.40 638.55,588.40 638.80,588.40 639.05,588.40 639.30,588.40 639.55,588.40 639.80,588.40 640.05,588.40 640.30,588.40 640.55,588.40 640.80,588.40 641.05,588.40 641.30,588.40 641.55,588.39 641.80,588.39 642.05,588.39 642.30,588.39 642.55,588.38 642.80,588.38 643.05,588.38 643.30,588.37 643.55,588.37 643.80,588.37 644.05,588.36 644.30,588.36 644.55,588.35 644.80,588.35 645.05,588.34 645.30,588.34 645.55,588.33 645.80,588.33 646.05,588.32 646.30,588.31 646.55,588.31 646.80,588.30 647.05,588.29 647.30,588.29 647.55,588.28 647.80,588.27 648.05,588.26 648.30,588.26 648.55,588.25 648.80,588.24 649.05,588.23 649.30,588.22 649.55,588.22 649.80,588.21 650.05,588.20 650.30,588.19 650.55,588.18 650.80,588.16 651.05,588.15 651.30,588.14 651.55,588.12 651.80,588.10 652.05,588.08 652.30,588.06 652.55,588.04 652.80,588.02 653.05,587.99 653.30,587.97 653.55,587.94 653.80,587.91 654.05,587.88 654.30,587.85 654.55,587.82 654.80,587.79 655.05,587.75 655.30,587.72 655.55,587.68 655.80,587.64 656.05,587.61 656.30,587.57 656.55,587.52 656.80,587.48 657.05,587.43 657.30,587.38 657.55,587.32 657.80,587.25 658.05,587.18 658.30,587.10 658.55,587.02 658.80,586.93 659.05,586.84 659.30,586.74 659.55,586.64 659.80,586.54 660.05,586.43 660.30,586.32 660.55,586.20 660.80,586.09 661.05,585.97 661.30,585.85 661.55,585.72 661.80,585.60 662.05,585.47 662.30,585.34 662.55,585.21 662.80,585.06 663.05,584.91 663.30,584.75 663.55,584.59 663.80,584.42 664.05,584.24 664.30,584.06 664.55,583.87 664.80,583.68 665.05,583.48 665.30,583.27 665.55,583.06 665.80,582.84 666.05,582.62 666.30,582.39 666.55,582.15 666.80,581.91 667.05,581.66 667.30,581.39 667.55,581.11 667.80,580.81 668.05,580.48 668.30,580.13 668.55,579.75 668.80,579.33 669.05,578.84 669.30,578.30 669.55,577.69 669.80,577.03 670.05,576.33 670.30,575.59 670.55,574.81 670.80,574.01 671.05,573.19 671.30,572.35 671.55,571.51 671.80,570.67 672.05,569.83 672.30,568.99 672.55,568.14 672.80,567.26 673.05,566.37 673.30,565.45 673.55,564.50 673.80,563.52 674.05,562.49 674.30,561.43 674.55,560.32 674.80,559.16 675.05,557.95 675.30,556.64 675.55,555.21 675.80,553.69 676.05,552.08 676.30,550.39 676.55,548.65 676.80,546.91 677.05,545.09 677.30,543.03 677.55,540.56 677.80,537.24 678.05,532.83 678.30,528.00 678.55,522.43 678.80,516.79 679.05,512.31 679.30,510.20 679.55,508.07 679.80,505.81 680.05,503.38 680.30,500.84 680.55,498.22 680.80,495.59 681.05,492.98 681.30,490.40 681.55,487.82 681.80,485.21 682.05,482.58 682.30,479.89 682.55,477.14 682.80,474.32 683.05,471.41 683.30,468.35 683.55,465.15 683.80,461.85 684.05,458.50 684.30,455.14 684.55,451.80 684.80,448.53 685.05,445.38 685.30,442.21 685.55,439.03 685.80,435.90 686.05,432.89 686.30,430.07 686.55,427.50 686.80,424.92 687.05,422.35 687.30,420.03 687.55,418.17 687.80,417.00 688.05,416.29 688.30,415.66 688.55,415.18 688.80,414.88 689.05,414.80 689.30,414.94 689.55,415.24 689.80,415.66 690.05,416.17 690.30,416.77 690.55,417.77 690.80,419.15 691.05,420.79 691.30,422.57 691.55,424.36 691.80,426.31 692.05,428.49 692.30,430.84 692.55,433.33 692.80,435.91 693.05,438.53 693.30,441.29 693.55,444.21 693.80,447.25 694.05,450.36 694.30,453.50 694.55,456.62 694.80,459.76 695.05,462.94 695.30,466.15 695.55,469.40 695.80,472.68 696.05,476.00 696.30,479.35 696.55,482.76 696.80,486.23 697.05,489.73 697.30,493.25 697.55,496.76 697.80,500.24 698.05,503.69 698.30,507.14 698.55,510.63 698.80,514.11 699.05,517.57 699.30,520.97 699.55,524.30 699.80,527.52 700.05,530.61 700.30,533.63 700.55,536.61 700.80,539.52 701.05,542.34 701.30,545.04 701.55,547.60 701.80,550.00 702.05,552.26 702.30,554.42 702.55,556.48 702.80,558.45 703.05,560.33 703.30,562.13 703.55,563.84 703.80,565.48 704.05,567.08 704.30,568.61 704.55,570.07 704.80,571.47 705.05,572.78 705.30,574.00 705.55,575.17 705.80,576.31 706.05,577.40 706.30,578.44 706.55,579.40 706.80,580.29 707.05,581.08 707.30,581.77 707.55,582.40 707.80,583.01 708.05,583.58 708.30,584.11 708.55,584.62 708.80,585.10 709.05,585.54 709.30,585.96 709.55,586.36 709.80,586.72 710.05,587.07 710.30,587.40 710.55,587.72 710.80,588.03 711.05,588.33 711.30,588.62 711.55,588.90 711.80,589.17 712.05,589.42 712.30,589.66 712.55,589.87 712.80,590.08 713.05,590.26 713.30,590.43 713.55,590.57 713.80,590.70 714.05,590.83 714.30,590.95 714.55,591.07 714.80,591.18 715.05,591.29 715.30,591.39 715.55,591.49 715.80,591.59 716.05,591.69 716.30,591.78 716.55,591.87 716.80,591.95 717.05,592.03 717.30,592.11 717.55,592.19 717.80,592.26 718.05,592.33 718.30,592.40 718.55,592.46 718.80,592.53 719.05,592.59 719.30,592.65 719.55,592.71 719.80,592.77 720.05,592.82 720.30,592.88 720.55,592.93 720.80,592.98 721.05,593.03 721.30,593.08 721.55,593.13 721.80,593.18 722.05,593.22 722.30,593.27 722.55,593.32 722.80,593.36 723.05,593.41 723.30,593.45 723.55,593.49 723.80,593.54 724.05,593.58 724.30,593.62 724.55,593.66 724.80,593.70 725.05,593.74 725.30,593.77 725.55,593.81 725.80,593.84 726.05,593.88 726.30,593.91 726.55,593.95 726.80,593.98 727.05,594.01 727.30,594.04 727.55,594.07 727.80,594.10 728.05,594.12 728.30,594.15 728.55,594.17 728.80,594.20 729.05,594.22 729.30,594.24 729.55,594.26 729.80,594.28 730.05,594.30 730.30,594.32 730.55,594.34 730.80,594.36 731.05,594.38 731.30,594.40 731.55,594.41 731.80,594.43 732.05,594.45 732.30,594.47 732.55,594.49 732.80,594.50 733.05,594.52 733.30,594.54 733.55,594.55 733.80,594.57 734.05,594.59 734.30,594.60 734.55,594.62 734.80,594.63 735.05,594.65 735.30,594.66 735.55,594.67 735.80,594.69 736.05,594.70 736.30,594.71 736.55,594.72 736.80,594.73 737.05,594.74 737.30,594.75 737.55,594.76 737.80,594.77 738.05,594.77 738.30,594.78 738.55,594.78 738.80,594.79 739.05,594.79 739.30,594.80 739.55,594.80 739.80,594.80 740.05,594.80 740.30,594.80 740.55,594.80 740.80,594.80 741.05,594.80 741.30,594.80 741.55,594.80 741.80,594.80 742.05,594.80 742.30,594.80 742.55,594.80 742.80,594.80 743.05,594.80 743.30,594.80 743.55,594.80 743.80,594.80 744.05,594.80 744.30,594.80 744.55,594.80 744.80,594.80 745.05,594.80 745.30,594.80 745.55,594.80 745.80,594.80 746.05,594.80 746.30,594.80 746.55,594.80 746.80,594.80 747.05,594.80 747.30,594.80 747.55,594.80 747.80,594.80 748.05,594.80 748.30,594.80 748.55,594.80 748.80,594.80 749.05,594.80 749.30,594.80 749.55,594.80 749.80,594.80 750.05,594.80 750.30,594.80 750.55,594.80 750.80,594.80 751.05,594.80 751.30,594.80 751.55,594.80 751.80,594.80 752.05,594.80 752.30,594.80 752.55,594.80 752.80,594.80 753.05,594.80 753.30,594.80 753.55,594.80 753.80,594.80 754.05,594.80 754.30,594.80 754.55,594.80 754.80,594.80 755.05,594.80 755.30,594.80 755.55,594.80 755.80,594.80 756.05,594.80 756.30,594.80 756.55,594.80" fill="none" stroke="#2424a4" stroke-width="1.0" stroke-linejoin="round" /><polyline points="534.80,588.20 535.05,588.20 535.30,588.20 535.55,588.20 535.80,588.21 536.05,588.21 536.30,588.21 536.55,588.21 536.80,588.21 537.05,588.21 537.30,588.22 537.55,588.22 537.80,588.22 538.05,588.22 538.30,588.22 538.55,588.22 538.80,588.23 539.05,588.23 539.30,588.23 539.55,588.23 539.80,588.23 540.05,588.23 540.30,588.23 540.55,588.24 540.80,588.24 541.05,588.24 541.30,588.24 541.55,588.24 541.80,588.24 542.05,588.24 542.30,588.25 542.55,588.25 542.80,588.25 543.05,588.25 543.30,588.25 543.55,588.25 543.80,588.25 544.05,588.25 544.30,588.26 544.55,588.26 544.80,588.26 545.05,588.26 545.30,588.26 545.55,588.26 545.80,588.26 546.05,588.26 546.30,588.27 546.55,588.27 546.80,588.27 547.05,588.27 547.30,588.27 547.55,588.27 547.80,588.27 548.05,588.27 548.30,588.27 548.55,588.28 548.80,588.28 549.05,588.28 549.30,588.28 549.55,588.28 549.80,588.28 550.05,588.28 550.30,588.28 550.55,588.28 550.80,588.28 551.05,588.28 551.30,588.29 551.55,588.29 551.80,588.29 552.05,588.29 552.30,588.29 552.55,588.29 552.80,588.29 553.05,588.29 553.30,588.29 553.55,588.29 553.80,588.29 554.05,588.29 554.30,588.29 554.55,588.29 554.80,588.29 555.05,588.29 555.30,588.30 555.55,588.30 555.80,588.30 556.05,588.30 556.30,588.30 556.55,588.30 556.80,588.30 557.05,588.30 557.30,588.30 557.55,588.30 557.80,588.30 558.05,588.30 558.30,588.30 558.55,588.30 558.80,588.30 559.05,588.30 559.30,588.30 559.55,588.30 559.80,588.30 560.05,588.30 560.30,588.30 560.55,588.30 560.80,588.30 561.05,588.30 561.30,588.30 561.55,588.30 561.80,588.30 562.05,588.30 562.30,588.30 562.55,588.30 562.80,588.30 563.05,588.30 563.30,588.30 563.55,588.30 563.80,588.30 564.05,588.30 564.30,588.30 564.55,588.30 564.80,588.30 565.05,588.30 565.30,588.30 565.55,588.29 565.80,588.29 566.05,588.29 566.30,588.29 566.55,588.29 566.80,588.29 567.05,588.29 567.30,588.29 567.55,588.29 567.80,588.29 568.05,588.29 568.30,588.29 568.55,588.29 568.80,588.29 569.05,588.29 569.30,588.29 569.55,588.29 569.80,588.28 570.05,588.28 570.30,588.28 570.55,588.28 570.80,588.28 571.05,588.28 571.30,588.28 571.55,588.28 571.80,588.28 572.05,588.28 572.30,588.28 572.55,588.28 572.80,588.28 573.05,588.28 573.30,588.27 573.55,588.27 573.80,588.27 574.05,588.27 574.30,588.27 574.55,588.27 574.80,588.27 575.05,588.27 575.30,588.27 575.55,588.27 575.80,588.27 576.05,588.26 576.30,588.26 576.55,588.26 576.80,588.26 577.05,588.26 577.30,588.26 577.55,588.26 577.80,588.26 578.05,588.26 578.30,588.26 578.55,588.26 578.80,588.25 579.05,588.25 579.30,588.25 579.55,588.25 579.80,588.25 580.05,588.25 580.30,588.25 580.55,588.25 580.80,588.25 581.05,588.25 581.30,588.25 581.55,588.24 581.80,588.24 582.05,588.24 582.30,588.24 582.55,588.24 582.80,588.24 583.05,588.24 583.30,588.24 583.55,588.24 583.80,588.24 584.05,588.24 584.30,588.23 584.55,588.23 584.80,588.23 585.05,588.23 585.30,588.23 585.55,588.23 585.80,588.23 586.05,588.23 586.30,588.23 586.55,588.23 586.80,588.23 587.05,588.22 587.30,588.22 587.55,588.22 587.80,588.22 588.05,588.22 588.30,588.22 588.55,588.22 588.80,588.22 589.05,588.22 589.30,588.22 589.55,588.22 589.80,588.22 590.05,588.22 590.30,588.21 590.55,588.21 590.80,588.21 591.05,588.21 591.30,588.21 591.55,588.21 591.80,588.21 592.05,588.21 592.30,588.21 592.55,588.21 592.80,588.21 593.05,588.21 593.30,588.21 593.55,588.21 593.80,588.21 594.05,588.21 594.30,588.21 594.55,588.21 594.80,588.20 595.05,588.20 595.30,588.20 595.55,588.20 595.80,588.20 596.05,588.20 596.30,588.20 596.55,588.20 596.80,588.20 597.05,588.20 597.30,588.20 597.55,588.20 597.80,588.20 598.05,588.20 598.30,588.20 598.55,588.20 598.80,588.20 599.05,588.20 599.30,588.20 599.55,588.20 599.80,588.20 600.05,588.20 600.30,588.20 600.55,588.20 600.80,588.20 601.05,588.20 601.30,588.20 601.55,588.20 601.80,588.20 602.05,588.20 602.30,588.20 602.55,588.20 602.80,588.20 603.05,588.20 603.30,588.20 603.55,588.20 603.80,588.20 604.05,588.20 604.30,588.20 604.55,588.20 604.80,588.20 605.05,588.20 605.30,588.20 605.55,588.20 605.80,588.20 606.05,588.20 606.30,588.20 606.55,588.20 606.80,588.20 607.05,588.20 607.30,588.20 607.55,588.20 607.80,588.20 608.05,588.20 608.30,588.20 608.55,588.20 608.80,588.20 609.05,588.20 609.30,588.20 609.55,588.20 609.80,588.20 610.05,588.20 610.30,588.20 610.55,588.20 610.80,588.20 611.05,588.20 611.30,588.20 611.55,588.20 611.80,588.20 612.05,588.20 612.30,588.20 612.55,588.20 612.80,588.20 613.05,588.20 613.30,588.20 613.55,588.20 613.80,588.20 614.05,588.20 614.30,588.20 614.55,588.20 614.80,588.20 615.05,588.20 615.30,588.20 615.55,588.20 615.80,588.20 616.05,588.20 616.30,588.20 616.55,588.20 616.80,588.20 617.05,588.20 617.30,588.20 617.55,588.20 617.80,588.20 618.05,588.20 618.30,588.20 618.55,588.20 618.80,588.20 619.05,588.20 619.30,588.20 619.55,588.20 619.80,588.20 620.05,588.20 620.30,588.20 620.55,588.20 620.80,588.20 621.05,588.20 621.30,588.20 621.55,588.20 621.80,588.20 622.05,588.20 622.30,588.20 622.55,588.20 622.80,588.20 623.05,588.20 623.30,588.20 623.55,588.20 623.80,588.20 624.05,588.20 624.30,588.20 624.55,588.20 624.80,588.20 625.05,588.20 625.30,588.20 625.55,588.20 625.80,588.20 626.05,588.20 626.30,588.20 626.55,588.20 626.80,588.20 627.05,588.20 627.30,588.20 627.55,588.20 627.80,588.20 628.05,588.20 628.30,588.20 628.55,588.20 628.80,588.20 629.05,588.20 629.30,588.20 629.55,588.20 629.80,588.20 630.05,588.20 630.30,588.20 630.55,588.20 630.80,588.20 631.05,588.20 631.30,588.20 631.55,588.20 631.80,588.20 632.05,588.20 632.30,588.20 632.55,588.20 632.80,588.20 633.05,588.20 633.30,588.20 633.55,588.20 633.80,588.20 634.05,588.20 634.30,588.20 634.55,588.20 634.80,588.20 635.05,588.20 635.30,588.20 635.55,588.20 635.80,588.20 636.05,588.20 636.30,588.20 636.55,588.20 636.80,588.20 637.05,588.20 637.30,588.20 637.55,588.20 637.80,588.20 638.05,588.20 638.30,588.20 638.55,588.20 638.80,588.20 639.05,588.20 639.30,588.20 639.55,588.20 639.80,588.20 640.05,588.20 640.30,588.20 640.55,588.19 640.80,588.19 641.05,588.18 641.30,588.17 641.55,588.16 641.80,588.14 642.05,588.13 642.30,588.11 642.55,588.09 642.80,588.07 643.05,588.04 643.30,588.02 643.55,587.99 643.80,587.96 644.05,587.93 644.30,587.90 644.55,587.87 644.80,587.83 645.05,587.79 645.30,587.74 645.55,587.65 645.80,587.55 646.05,587.42 646.30,587.28 646.55,587.12 646.80,586.95 647.05,586.76 647.30,586.57 647.55,586.37 647.80,586.17 648.05,585.96 648.30,585.73 648.55,585.49 648.80,585.22 649.05,584.93 649.30,584.62 649.55,584.29 649.80,583.94 650.05,583.57 650.30,583.18 650.55,582.77 650.80,582.35 651.05,581.91 651.30,581.44 651.55,580.92 651.80,580.37 652.05,579.78 652.30,579.16 652.55,578.50 652.80,577.80 653.05,577.07 653.30,576.30 653.55,575.51 653.80,574.68 654.05,573.83 654.30,572.90 654.55,571.88 654.80,570.79 655.05,569.63 655.30,568.41 655.55,567.14 655.80,565.82 656.05,564.48 656.30,563.11 656.55,561.72 656.80,560.27 657.05,558.75 657.30,557.16 657.55,555.52 657.80,553.84 658.05,552.12 658.30,550.39 658.55,548.65 658.80,546.84 659.05,544.96 659.30,543.02 659.55,541.07 659.80,539.13 660.05,537.23 660.30,535.40 660.55,533.66 660.80,532.02 661.05,530.46 661.30,528.95 661.55,527.45 661.80,525.96 662.05,524.42 662.30,522.83 662.55,521.15 662.80,519.29 663.05,517.28 663.30,515.21 663.55,513.15 663.80,511.21 664.05,509.46 664.30,508.00 664.55,506.66 664.80,505.30 665.05,504.03 665.30,502.98 665.55,502.26 665.80,502.00 666.05,502.02 666.30,502.07 666.55,502.14 666.80,502.24 667.05,502.36 667.30,502.50 667.55,502.76 667.80,503.20 668.05,503.80 668.30,504.48 668.55,505.22 668.80,505.95 669.05,506.63 669.30,507.31 669.55,508.02 669.80,508.75 670.05,509.50 670.30,510.27 670.55,511.06 670.80,511.86 671.05,512.66 671.30,513.51 671.55,514.41 671.80,515.33 672.05,516.26 672.30,517.18 672.55,518.06 672.80,518.89 673.05,519.65 673.30,520.44 673.55,521.27 673.80,522.10 674.05,522.88 674.30,523.56 674.55,524.08 674.80,524.41 675.05,524.50 675.30,524.50 675.55,524.50 675.80,524.50 676.05,524.50 676.30,524.50 676.55,524.49 676.80,524.20 677.05,523.56 677.30,522.66 677.55,521.59 677.80,520.43 678.05,519.26 678.30,517.88 678.55,516.22 678.80,514.34 679.05,512.31 679.30,510.20 679.55,508.07 679.80,505.81 680.05,503.38 680.30,500.84 680.55,498.22 680.80,495.59 681.05,492.98 681.30,490.40 681.55,487.82 681.80,485.21 682.05,482.58 682.30,479.89 682.55,477.14 682.80,474.32 683.05,471.41 683.30,468.35 683.55,465.15 683.80,461.85 684.05,458.50 684.30,455.14 684.55,451.80 684.80,448.53 685.05,445.38 685.30,442.21 685.55,439.03 685.80,435.90 686.05,432.89 686.30,430.07 686.55,427.50 686.80,424.92 687.05,422.35 687.30,420.03 687.55,418.17 687.80,417.00 688.05,416.29 688.30,415.66 688.55,415.18 688.80,414.88 689.05,414.80 689.30,414.94 689.55,415.24 689.80,415.66 690.05,416.17 690.30,416.77 690.55,417.77 690.80,419.15 691.05,420.79 691.30,422.57 691.55,424.36 691.80,426.31 692.05,428.49 692.30,430.84 692.55,433.33 692.80,435.91 693.05,438.53 693.30,441.29 693.55,444.21 693.80,447.25 694.05,450.36 694.30,453.50 694.55,456.62 694.80,459.76 695.05,462.94 695.30,466.15 695.55,469.40 695.80,472.68 696.05,476.00 696.30,479.35 696.55,482.76 696.80,486.23 697.05,489.73 697.30,493.25 697.55,496.76 697.80,500.24 698.05,503.69 698.30,507.14 698.55,510.63 698.80,514.11 699.05,517.57 699.30,520.97 699.55,524.30 699.80,527.52 700.05,530.61 700.30,533.63 700.55,536.61 700.80,539.52 701.05,542.34 701.30,545.04 701.55,547.60 701.80,550.00 702.05,552.26 702.30,554.42 702.55,556.48 702.80,558.45 703.05,560.33 703.30,562.13 703.55,563.84 703.80,565.48 704.05,567.08 704.30,568.61 704.55,570.07 704.80,571.47 705.05,572.78 705.30,574.00 705.55,575.17 705.80,576.31 706.05,577.40 706.30,578.44 706.55,579.40 706.80,580.29 707.05,581.08 707.30,581.77 707.55,582.40 707.80,583.01 708.05,583.58 708.30,584.11 708.55,584.62 708.80,585.10 709.05,585.54 709.30,585.96 709.55,586.36 709.80,586.72 710.05,587.07 710.30,587.40 710.55,587.72 710.80,588.03 711.05,588.33 711.30,588.62 711.55,588.90 711.80,589.17 712.05,589.42 712.30,589.66 712.55,589.87 712.80,590.08 713.05,590.26 713.30,590.43 713.55,590.57 713.80,590.70 714.05,590.83 714.30,590.95 714.55,591.07 714.80,591.18 715.05,591.29 715.30,591.39 715.55,591.49 715.80,591.59 716.05,591.69 716.30,591.78 716.55,591.87 716.80,591.95 717.05,592.03 717.30,592.11 717.55,592.19 717.80,592.26 718.05,592.33 718.30,592.40 718.55,592.46 718.80,592.53 719.05,592.59 719.30,592.65 719.55,592.71 719.80,592.77 720.05,592.82 720.30,592.88 720.55,592.93 720.80,592.98 721.05,593.03 721.30,593.08 721.55,593.13 721.80,593.18 722.05,593.22 722.30,593.27 722.55,593.32 722.80,593.36 723.05,593.41 723.30,593.45 723.55,593.49 723.80,593.54 724.05,593.58 724.30,593.62 724.55,593.66 724.80,593.70 725.05,593.74 725.30,593.77 725.55,593.81 725.80,593.84 726.05,593.88 726.30,593.91 726.55,593.95 726.80,593.98 727.05,594.01 727.30,594.04 727.55,594.07 727.80,594.10 728.05,594.12 728.30,594.15 728.55,594.17 728.80,594.20 729.05,594.22 729.30,594.24 729.55,594.26 729.80,594.28 730.05,594.30 730.30,594.32 730.55,594.34 730.80,594.36 731.05,594.38 731.30,594.40 731.55,594.41 731.80,594.43 732.05,594.45 732.30,594.47 732.55,594.49 732.80,594.50 733.05,594.52 733.30,594.54 733.55,594.55 733.80,594.57 734.05,594.59 734.30,594.60 734.55,594.62 734.80,594.63 735.05,594.65 735.30,594.66 735.55,594.67 735.80,594.69 736.05,594.70 736.30,594.71 736.55,594.72 736.80,594.73 737.05,594.74 737.30,594.75 737.55,594.76 737.80,594.77 738.05,594.77 738.30,594.78 738.55,594.78 738.80,594.79 739.05,594.79 739.30,594.80 739.55,594.80 739.80,594.80 740.05,594.80 740.30,594.80 740.55,594.80 740.80,594.80 741.05,594.80 741.30,594.80 741.55,594.80 741.80,594.80 742.05,594.80 742.30,594.80 742.55,594.80 742.80,594.80 743.05,594.80 743.30,594.80 743.55,594.80 743.80,594.80 744.05,594.80 744.30,594.80 744.55,594.80 744.80,594.80 745.05,594.80 745.30,594.80 745.55,594.80 745.80,594.80 746.05,594.80 746.30,594.80 746.55,594.80 746.80,594.80 747.05,594.80 747.30,594.80 747.55,594.80 747.80,594.80 748.05,594.80 748.30,594.80 748.55,594.80 748.80,594.80 749.05,594.80 749.30,594.80 749.55,594.80 749.80,594.80 750.05,594.80 750.30,594.80 750.55,594.80 750.80,594.80 751.05,594.80 751.30,594.80 751.55,594.80 751.80,594.80 752.05,594.80 752.30,594.80 752.55,594.80 752.80,594.80 753.05,594.80 753.30,594.80 753.55,594.80 753.80,594.80 754.05,594.80 754.30,594.80 754.55,594.80 754.80,594.80 755.05,594.80 755.30,594.80 755.55,594.80 755.80,594.80 756.05,594.80 756.30,594.80 756.55,594.80" fill="none" stroke="#b41e1e" stroke-width="1.0" stroke-linejoin="round" /><path d="M687.9,417 L688.9,414.6 L689.9,417" fill="none" stroke="#2424a4" stroke-width="1"/><line x1="534.15" y1="388.6" x2="757.25" y2="388.6" stroke="#5a5a5a" stroke-width="1.3"/><line x1="756.6" y1="387.95000000000005" x2="756.6" y2="607.25" stroke="#707070" stroke-width="1.3"/><line x1="534.8" y1="387.95000000000005" x2="534.8" y2="607.25" stroke="#5a5a5a" stroke-width="1.3"/><line x1="534.15" y1="606.6" x2="757.25" y2="606.6" stroke="#6a6a6a" stroke-width="1.3"/><line x1="534.70" y1="606.6" x2="534.70" y2="609.8000000000001" stroke="#555" stroke-width="0.9"/><line x1="534.70" y1="388.6" x2="534.70" y2="391.8" stroke="#555" stroke-width="0.9"/><line x1="571.65" y1="606.6" x2="571.65" y2="609.8000000000001" stroke="#555" stroke-width="0.9"/><line x1="571.65" y1="388.6" x2="571.65" y2="391.8" stroke="#555" stroke-width="0.9"/><line x1="608.60" y1="606.6" x2="608.60" y2="609.8000000000001" stroke="#555" stroke-width="0.9"/><line x1="608.60" y1="388.6" x2="608.60" y2="391.8" stroke="#555" stroke-width="0.9"/><line x1="645.55" y1="606.6" x2="645.55" y2="609.8000000000001" stroke="#555" stroke-width="0.9"/><line x1="645.55" y1="388.6" x2="645.55" y2="391.8" stroke="#555" stroke-width="0.9"/><line x1="682.50" y1="606.6" x2="682.50" y2="609.8000000000001" stroke="#555" stroke-width="0.9"/><line x1="682.50" y1="388.6" x2="682.50" y2="391.8" stroke="#555" stroke-width="0.9"/><line x1="719.45" y1="606.6" x2="719.45" y2="609.8000000000001" stroke="#555" stroke-width="0.9"/><line x1="719.45" y1="388.6" x2="719.45" y2="391.8" stroke="#555" stroke-width="0.9"/><line x1="756.40" y1="606.6" x2="756.40" y2="609.8000000000001" stroke="#555" stroke-width="0.9"/><line x1="756.40" y1="388.6" x2="756.40" y2="391.8" stroke="#555" stroke-width="0.9"/><line x1="553.18" y1="606.6" x2="553.18" y2="608.4" stroke="#555" stroke-width="0.9"/><line x1="553.18" y1="388.6" x2="553.18" y2="390.40000000000003" stroke="#555" stroke-width="0.9"/><line x1="590.12" y1="606.6" x2="590.12" y2="608.4" stroke="#555" stroke-width="0.9"/><line x1="590.12" y1="388.6" x2="590.12" y2="390.40000000000003" stroke="#555" stroke-width="0.9"/><line x1="627.08" y1="606.6" x2="627.08" y2="608.4" stroke="#555" stroke-width="0.9"/><line x1="627.08" y1="388.6" x2="627.08" y2="390.40000000000003" stroke="#555" stroke-width="0.9"/><line x1="664.03" y1="606.6" x2="664.03" y2="608.4" stroke="#555" stroke-width="0.9"/><line x1="664.03" y1="388.6" x2="664.03" y2="390.40000000000003" stroke="#555" stroke-width="0.9"/><line x1="700.98" y1="606.6" x2="700.98" y2="608.4" stroke="#555" stroke-width="0.9"/><line x1="700.98" y1="388.6" x2="700.98" y2="390.40000000000003" stroke="#555" stroke-width="0.9"/><line x1="737.93" y1="606.6" x2="737.93" y2="608.4" stroke="#555" stroke-width="0.9"/><line x1="737.93" y1="388.6" x2="737.93" y2="390.40000000000003" stroke="#555" stroke-width="0.9"/><line x1="531.1999999999999" y1="388.60" x2="534.8" y2="388.60" stroke="#555" stroke-width="0.9"/><line x1="753.0" y1="388.60" x2="756.6" y2="388.60" stroke="#555" stroke-width="0.9"/><line x1="531.1999999999999" y1="417.30" x2="534.8" y2="417.30" stroke="#555" stroke-width="0.9"/><line x1="753.0" y1="417.30" x2="756.6" y2="417.30" stroke="#555" stroke-width="0.9"/><line x1="531.1999999999999" y1="446.00" x2="534.8" y2="446.00" stroke="#555" stroke-width="0.9"/><line x1="753.0" y1="446.00" x2="756.6" y2="446.00" stroke="#555" stroke-width="0.9"/><line x1="531.1999999999999" y1="474.70" x2="534.8" y2="474.70" stroke="#555" stroke-width="0.9"/><line x1="753.0" y1="474.70" x2="756.6" y2="474.70" stroke="#555" stroke-width="0.9"/><line x1="531.1999999999999" y1="503.40" x2="534.8" y2="503.40" stroke="#555" stroke-width="0.9"/><line x1="753.0" y1="503.40" x2="756.6" y2="503.40" stroke="#555" stroke-width="0.9"/><line x1="531.1999999999999" y1="532.10" x2="534.8" y2="532.10" stroke="#555" stroke-width="0.9"/><line x1="753.0" y1="532.10" x2="756.6" y2="532.10" stroke="#555" stroke-width="0.9"/><line x1="531.1999999999999" y1="560.80" x2="534.8" y2="560.80" stroke="#555" stroke-width="0.9"/><line x1="753.0" y1="560.80" x2="756.6" y2="560.80" stroke="#555" stroke-width="0.9"/><line x1="531.1999999999999" y1="589.50" x2="534.8" y2="589.50" stroke="#555" stroke-width="0.9"/><line x1="753.0" y1="589.50" x2="756.6" y2="589.50" stroke="#555" stroke-width="0.9"/><line x1="532.8" y1="402.95" x2="534.8" y2="402.95" stroke="#555" stroke-width="0.9"/><line x1="754.6" y1="402.95" x2="756.6" y2="402.95" stroke="#555" stroke-width="0.9"/><line x1="532.8" y1="431.65" x2="534.8" y2="431.65" stroke="#555" stroke-width="0.9"/><line x1="754.6" y1="431.65" x2="756.6" y2="431.65" stroke="#555" stroke-width="0.9"/><line x1="532.8" y1="460.35" x2="534.8" y2="460.35" stroke="#555" stroke-width="0.9"/><line x1="754.6" y1="460.35" x2="756.6" y2="460.35" stroke="#555" stroke-width="0.9"/><line x1="532.8" y1="489.05" x2="534.8" y2="489.05" stroke="#555" stroke-width="0.9"/><line x1="754.6" y1="489.05" x2="756.6" y2="489.05" stroke="#555" stroke-width="0.9"/><line x1="532.8" y1="517.75" x2="534.8" y2="517.75" stroke="#555" stroke-width="0.9"/><line x1="754.6" y1="517.75" x2="756.6" y2="517.75" stroke="#555" stroke-width="0.9"/><line x1="532.8" y1="546.45" x2="534.8" y2="546.45" stroke="#555" stroke-width="0.9"/><line x1="754.6" y1="546.45" x2="756.6" y2="546.45" stroke="#555" stroke-width="0.9"/><line x1="532.8" y1="575.15" x2="534.8" y2="575.15" stroke="#555" stroke-width="0.9"/><line x1="754.6" y1="575.15" x2="756.6" y2="575.15" stroke="#555" stroke-width="0.9"/><line x1="532.8" y1="603.85" x2="534.8" y2="603.85" stroke="#555" stroke-width="0.9"/><line x1="754.6" y1="603.85" x2="756.6" y2="603.85" stroke="#555" stroke-width="0.9"/><text transform="translate(528.14,619.00) scale(0.8751,1)" font-size="8.88" font-weight="bold" fill="#000" >170</text><text transform="translate(565.09,619.00) scale(0.8696,1)" font-size="8.88" font-weight="bold" fill="#000" >168</text><text transform="translate(602.04,619.00) scale(0.8724,1)" font-size="8.88" font-weight="bold" fill="#000" >166</text><text transform="translate(639.00,619.00) scale(0.8554,1)" font-size="8.88" font-weight="bold" fill="#000" >164</text><text transform="translate(675.94,619.00) scale(0.8746,1)" font-size="8.88" font-weight="bold" fill="#000" >162</text><text transform="translate(712.89,619.00) scale(0.8751,1)" font-size="8.88" font-weight="bold" fill="#000" >160</text><text transform="translate(749.84,619.00) scale(0.8696,1)" font-size="8.88" font-weight="bold" fill="#000" >158</text><text transform="translate(599.45,635.60) scale(0.9411,1)" font-size="10.34" font-weight="bold" fill="#000" >Binding energy (eV)</text><text transform="translate(523.90,549.91) rotate(-90) scale(1.1100,1)" font-size="9.52" font-weight="bold" fill="#000">Intensity (arb. units)</text><text transform="translate(537.47,400.18) scale(1.0856,1)" font-size="7.83" font-weight="bold" fill="#000" >(d)</text><text transform="translate(537.67,414.20) scale(0.9693,1)" font-size="8.31" font-weight="bold" fill="#000" >S2p</text><text transform="translate(679.40,408.20) scale(0.9389,1)" font-size="8.45" font-weight="bold" fill="#000" >161.7</text><text transform="translate(655.22,493.20) scale(0.9528,1)" font-size="8.02" font-weight="bold" fill="#000" >162.8</text>
</svg>
</body></html>
